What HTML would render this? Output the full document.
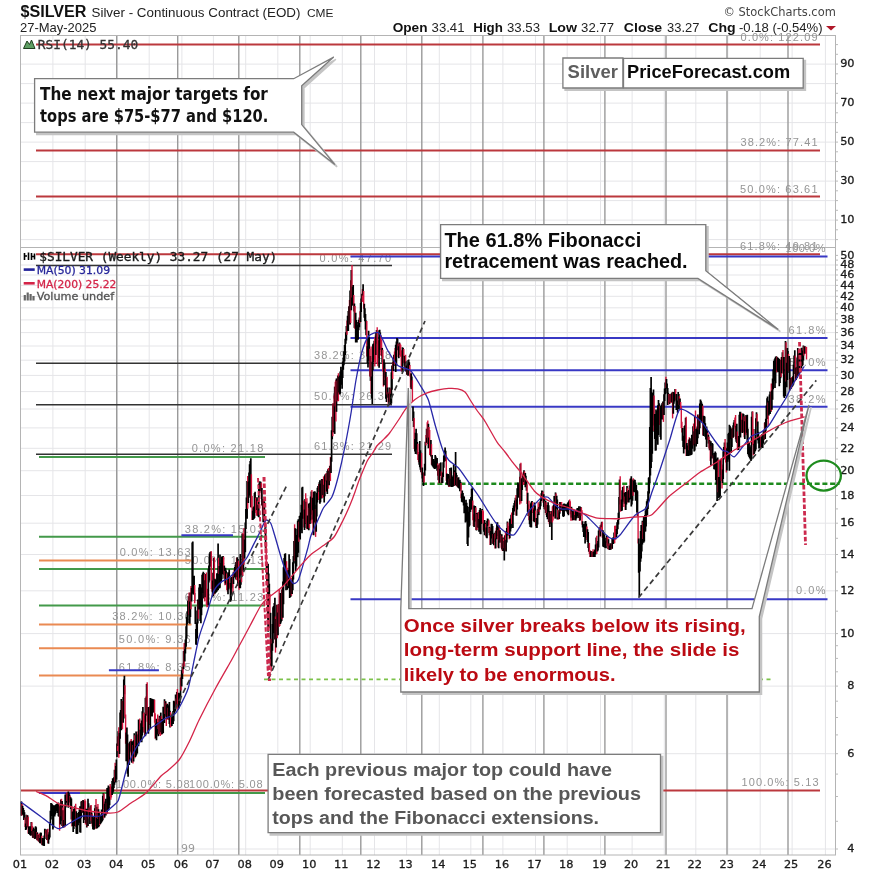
<!DOCTYPE html>
<html><head><meta charset="utf-8"><title>$SILVER Weekly</title>
<style>html,body{margin:0;padding:0;background:#fff;overflow:hidden;width:875px;height:875px;}svg{display:block;}</style></head>
<body><svg width="875" height="875" viewBox="0 0 875 875" shape-rendering="auto">
<rect x="0" y="0" width="875" height="875" fill="#fff"/>
<text x="20.5" y="17" font-family="'Liberation Sans', sans-serif" font-size="16" font-weight="bold" fill="#111" textLength="66" lengthAdjust="spacingAndGlyphs">$SILVER</text>
<text x="91.5" y="16.5" font-family="'Liberation Sans', sans-serif" font-size="13.4" fill="#222" textLength="209" lengthAdjust="spacingAndGlyphs">Silver - Continuous Contract (EOD)</text>
<text x="307" y="16.5" font-family="'Liberation Sans', sans-serif" font-size="10" fill="#222" textLength="26.5" lengthAdjust="spacingAndGlyphs">CME</text>
<text x="20" y="32" font-family="'Liberation Sans', sans-serif" font-size="13" fill="#222" textLength="76.5" lengthAdjust="spacingAndGlyphs">27-May-2025</text>
<text x="723.5" y="16" font-family="'DejaVu Sans', sans-serif" font-size="11.5" fill="#444" textLength="112.3" lengthAdjust="spacingAndGlyphs">&#169; StockCharts.com</text>
<text x="392.7" y="31.6" font-family="'Liberation Sans', sans-serif" font-size="13.5" font-weight="bold" fill="#111" textLength="34.8" lengthAdjust="spacingAndGlyphs">Open</text>
<text x="431.6" y="31.6" font-family="'Liberation Sans', sans-serif" font-size="13" fill="#222" textLength="32.9" lengthAdjust="spacingAndGlyphs">33.41</text>
<text x="473.3" y="31.6" font-family="'Liberation Sans', sans-serif" font-size="13.5" font-weight="bold" fill="#111" textLength="29.6" lengthAdjust="spacingAndGlyphs">High</text>
<text x="507" y="31.6" font-family="'Liberation Sans', sans-serif" font-size="13" fill="#222" textLength="33" lengthAdjust="spacingAndGlyphs">33.53</text>
<text x="548.7" y="31.6" font-family="'Liberation Sans', sans-serif" font-size="13.5" font-weight="bold" fill="#111" textLength="28.3" lengthAdjust="spacingAndGlyphs">Low</text>
<text x="581.1" y="31.6" font-family="'Liberation Sans', sans-serif" font-size="13" fill="#222" textLength="32.9" lengthAdjust="spacingAndGlyphs">32.77</text>
<text x="623.8" y="31.6" font-family="'Liberation Sans', sans-serif" font-size="13.5" font-weight="bold" fill="#111" textLength="38.4" lengthAdjust="spacingAndGlyphs">Close</text>
<text x="667.1" y="31.6" font-family="'Liberation Sans', sans-serif" font-size="13" fill="#222" textLength="32.4" lengthAdjust="spacingAndGlyphs">33.27</text>
<text x="708.3" y="31.6" font-family="'Liberation Sans', sans-serif" font-size="13.5" font-weight="bold" fill="#111" textLength="27.4" lengthAdjust="spacingAndGlyphs">Chg</text>
<text x="739" y="31.6" font-family="'Liberation Sans', sans-serif" font-size="13" fill="#222" textLength="83.6" lengthAdjust="spacingAndGlyphs">-0.18 (-0.54%)</text>
<polygon points="826,26 836,26 831,30.5" fill="#b0182a"/>
<line x1="20.5" y1="239.6" x2="835.5" y2="239.6" stroke="#e5e5e8" stroke-width="1"/>
<line x1="20.5" y1="220.1" x2="835.5" y2="220.1" stroke="#e5e5e8" stroke-width="1"/>
<line x1="20.5" y1="200.6" x2="835.5" y2="200.6" stroke="#e5e5e8" stroke-width="1"/>
<line x1="20.5" y1="181.1" x2="835.5" y2="181.1" stroke="#e5e5e8" stroke-width="1"/>
<line x1="20.5" y1="161.6" x2="835.5" y2="161.6" stroke="#e5e5e8" stroke-width="1"/>
<line x1="20.5" y1="142.1" x2="835.5" y2="142.1" stroke="#e5e5e8" stroke-width="1"/>
<line x1="20.5" y1="122.6" x2="835.5" y2="122.6" stroke="#e5e5e8" stroke-width="1"/>
<line x1="20.5" y1="103.1" x2="835.5" y2="103.1" stroke="#e5e5e8" stroke-width="1"/>
<line x1="20.5" y1="83.6" x2="835.5" y2="83.6" stroke="#e5e5e8" stroke-width="1"/>
<line x1="20.5" y1="64.1" x2="835.5" y2="64.1" stroke="#e5e5e8" stroke-width="1"/>
<line x1="20.5" y1="849" x2="835.5" y2="849" stroke="#e5e5e8" stroke-width="1"/>
<line x1="20.5" y1="753.7" x2="835.5" y2="753.7" stroke="#e5e5e8" stroke-width="1"/>
<line x1="20.5" y1="686.1" x2="835.5" y2="686.1" stroke="#e5e5e8" stroke-width="1"/>
<line x1="20.5" y1="633.6" x2="835.5" y2="633.6" stroke="#e5e5e8" stroke-width="1"/>
<line x1="20.5" y1="590.8" x2="835.5" y2="590.8" stroke="#e5e5e8" stroke-width="1"/>
<line x1="20.5" y1="554.5" x2="835.5" y2="554.5" stroke="#e5e5e8" stroke-width="1"/>
<line x1="20.5" y1="523.2" x2="835.5" y2="523.2" stroke="#e5e5e8" stroke-width="1"/>
<line x1="20.5" y1="495.5" x2="835.5" y2="495.5" stroke="#e5e5e8" stroke-width="1"/>
<line x1="20.5" y1="470.7" x2="835.5" y2="470.7" stroke="#e5e5e8" stroke-width="1"/>
<line x1="20.5" y1="448.3" x2="835.5" y2="448.3" stroke="#e5e5e8" stroke-width="1"/>
<line x1="20.5" y1="427.9" x2="835.5" y2="427.9" stroke="#e5e5e8" stroke-width="1"/>
<line x1="20.5" y1="409" x2="835.5" y2="409" stroke="#e5e5e8" stroke-width="1"/>
<line x1="20.5" y1="391.6" x2="835.5" y2="391.6" stroke="#e5e5e8" stroke-width="1"/>
<line x1="20.5" y1="375.4" x2="835.5" y2="375.4" stroke="#e5e5e8" stroke-width="1"/>
<line x1="20.5" y1="360.2" x2="835.5" y2="360.2" stroke="#e5e5e8" stroke-width="1"/>
<line x1="20.5" y1="346" x2="835.5" y2="346" stroke="#e5e5e8" stroke-width="1"/>
<line x1="20.5" y1="332.6" x2="835.5" y2="332.6" stroke="#e5e5e8" stroke-width="1"/>
<line x1="20.5" y1="319.9" x2="835.5" y2="319.9" stroke="#e5e5e8" stroke-width="1"/>
<line x1="20.5" y1="307.8" x2="835.5" y2="307.8" stroke="#e5e5e8" stroke-width="1"/>
<line x1="20.5" y1="296.3" x2="835.5" y2="296.3" stroke="#e5e5e8" stroke-width="1"/>
<line x1="20.5" y1="285.4" x2="835.5" y2="285.4" stroke="#e5e5e8" stroke-width="1"/>
<line x1="20.5" y1="275" x2="835.5" y2="275" stroke="#e5e5e8" stroke-width="1"/>
<line x1="20.5" y1="265" x2="835.5" y2="265" stroke="#e5e5e8" stroke-width="1"/>
<line x1="52.9" y1="35.5" x2="52.9" y2="855" stroke="#e5e5e8" stroke-width="1"/>
<line x1="85.2" y1="35.5" x2="85.2" y2="855" stroke="#e5e5e8" stroke-width="1"/>
<line x1="117.2" y1="35.5" x2="117.2" y2="855" stroke="#e5e5e8" stroke-width="1"/>
<line x1="149.2" y1="35.5" x2="149.2" y2="855" stroke="#e5e5e8" stroke-width="1"/>
<line x1="181.9" y1="35.5" x2="181.9" y2="855" stroke="#e5e5e8" stroke-width="1"/>
<line x1="213.4" y1="35.5" x2="213.4" y2="855" stroke="#e5e5e8" stroke-width="1"/>
<line x1="245.7" y1="35.5" x2="245.7" y2="855" stroke="#e5e5e8" stroke-width="1"/>
<line x1="277.8" y1="35.5" x2="277.8" y2="855" stroke="#e5e5e8" stroke-width="1"/>
<line x1="310.2" y1="35.5" x2="310.2" y2="855" stroke="#e5e5e8" stroke-width="1"/>
<line x1="342.3" y1="35.5" x2="342.3" y2="855" stroke="#e5e5e8" stroke-width="1"/>
<line x1="374.5" y1="35.5" x2="374.5" y2="855" stroke="#e5e5e8" stroke-width="1"/>
<line x1="406.6" y1="35.5" x2="406.6" y2="855" stroke="#e5e5e8" stroke-width="1"/>
<line x1="439.3" y1="35.5" x2="439.3" y2="855" stroke="#e5e5e8" stroke-width="1"/>
<line x1="470.8" y1="35.5" x2="470.8" y2="855" stroke="#e5e5e8" stroke-width="1"/>
<line x1="502.9" y1="35.5" x2="502.9" y2="855" stroke="#e5e5e8" stroke-width="1"/>
<line x1="535.5" y1="35.5" x2="535.5" y2="855" stroke="#e5e5e8" stroke-width="1"/>
<line x1="567.2" y1="35.5" x2="567.2" y2="855" stroke="#e5e5e8" stroke-width="1"/>
<line x1="600.5" y1="35.5" x2="600.5" y2="855" stroke="#e5e5e8" stroke-width="1"/>
<line x1="632.1" y1="35.5" x2="632.1" y2="855" stroke="#e5e5e8" stroke-width="1"/>
<line x1="664.3" y1="35.5" x2="664.3" y2="855" stroke="#e5e5e8" stroke-width="1"/>
<line x1="695.8" y1="35.5" x2="695.8" y2="855" stroke="#e5e5e8" stroke-width="1"/>
<line x1="727.8" y1="35.5" x2="727.8" y2="855" stroke="#e5e5e8" stroke-width="1"/>
<line x1="760.2" y1="35.5" x2="760.2" y2="855" stroke="#e5e5e8" stroke-width="1"/>
<line x1="792.1" y1="35.5" x2="792.1" y2="855" stroke="#e5e5e8" stroke-width="1"/>
<line x1="825.4" y1="35.5" x2="825.4" y2="855" stroke="#e5e5e8" stroke-width="1"/>
<line x1="116.7" y1="35.5" x2="116.7" y2="855" stroke="#9a9a9a" stroke-width="1.4"/>
<line x1="177.7" y1="35.5" x2="177.7" y2="855" stroke="#9a9a9a" stroke-width="1.4"/>
<line x1="238.8" y1="35.5" x2="238.8" y2="855" stroke="#9a9a9a" stroke-width="1.4"/>
<line x1="299.8" y1="35.5" x2="299.8" y2="855" stroke="#9a9a9a" stroke-width="1.4"/>
<line x1="360.8" y1="35.5" x2="360.8" y2="855" stroke="#9a9a9a" stroke-width="1.4"/>
<line x1="421.8" y1="35.5" x2="421.8" y2="855" stroke="#9a9a9a" stroke-width="1.4"/>
<line x1="482.9" y1="35.5" x2="482.9" y2="855" stroke="#9a9a9a" stroke-width="1.4"/>
<line x1="543.9" y1="35.5" x2="543.9" y2="855" stroke="#9a9a9a" stroke-width="1.4"/>
<line x1="604.9" y1="35.5" x2="604.9" y2="855" stroke="#9a9a9a" stroke-width="1.4"/>
<line x1="666" y1="35.5" x2="666" y2="855" stroke="#9a9a9a" stroke-width="1.4"/>
<line x1="727" y1="35.5" x2="727" y2="855" stroke="#9a9a9a" stroke-width="1.4"/>
<line x1="788" y1="35.5" x2="788" y2="855" stroke="#9a9a9a" stroke-width="1.4"/>
<rect x="20.5" y="35.5" width="815.0" height="819.5" fill="none" stroke="#b4b4b4" stroke-width="1"/>
<line x1="20.5" y1="247.5" x2="835.5" y2="247.5" stroke="#b4b4b4" stroke-width="1"/>
<line x1="835.5" y1="239.6" x2="838" y2="239.6" stroke="#bbb" stroke-width="1"/>
<line x1="835.5" y1="229.8" x2="838" y2="229.8" stroke="#bbb" stroke-width="1"/>
<line x1="835.5" y1="220.1" x2="838" y2="220.1" stroke="#bbb" stroke-width="1"/>
<line x1="835.5" y1="210.3" x2="838" y2="210.3" stroke="#bbb" stroke-width="1"/>
<line x1="835.5" y1="200.6" x2="838" y2="200.6" stroke="#bbb" stroke-width="1"/>
<line x1="835.5" y1="190.8" x2="838" y2="190.8" stroke="#bbb" stroke-width="1"/>
<line x1="835.5" y1="181.1" x2="838" y2="181.1" stroke="#bbb" stroke-width="1"/>
<line x1="835.5" y1="171.3" x2="838" y2="171.3" stroke="#bbb" stroke-width="1"/>
<line x1="835.5" y1="161.6" x2="838" y2="161.6" stroke="#bbb" stroke-width="1"/>
<line x1="835.5" y1="151.8" x2="838" y2="151.8" stroke="#bbb" stroke-width="1"/>
<line x1="835.5" y1="142.1" x2="838" y2="142.1" stroke="#bbb" stroke-width="1"/>
<line x1="835.5" y1="132.3" x2="838" y2="132.3" stroke="#bbb" stroke-width="1"/>
<line x1="835.5" y1="122.6" x2="838" y2="122.6" stroke="#bbb" stroke-width="1"/>
<line x1="835.5" y1="112.8" x2="838" y2="112.8" stroke="#bbb" stroke-width="1"/>
<line x1="835.5" y1="103.1" x2="838" y2="103.1" stroke="#bbb" stroke-width="1"/>
<line x1="835.5" y1="93.3" x2="838" y2="93.3" stroke="#bbb" stroke-width="1"/>
<line x1="835.5" y1="83.6" x2="838" y2="83.6" stroke="#bbb" stroke-width="1"/>
<line x1="835.5" y1="73.8" x2="838" y2="73.8" stroke="#bbb" stroke-width="1"/>
<line x1="835.5" y1="64.1" x2="838" y2="64.1" stroke="#bbb" stroke-width="1"/>
<line x1="835.5" y1="54.3" x2="838" y2="54.3" stroke="#bbb" stroke-width="1"/>
<line x1="835.5" y1="44.6" x2="838" y2="44.6" stroke="#bbb" stroke-width="1"/>
<line x1="835.5" y1="849" x2="838" y2="849" stroke="#bbb" stroke-width="1"/>
<line x1="835.5" y1="821.3" x2="838" y2="821.3" stroke="#bbb" stroke-width="1"/>
<line x1="835.5" y1="796.5" x2="838" y2="796.5" stroke="#bbb" stroke-width="1"/>
<line x1="835.5" y1="774.1" x2="838" y2="774.1" stroke="#bbb" stroke-width="1"/>
<line x1="835.5" y1="753.7" x2="838" y2="753.7" stroke="#bbb" stroke-width="1"/>
<line x1="835.5" y1="734.9" x2="838" y2="734.9" stroke="#bbb" stroke-width="1"/>
<line x1="835.5" y1="717.5" x2="838" y2="717.5" stroke="#bbb" stroke-width="1"/>
<line x1="835.5" y1="701.2" x2="838" y2="701.2" stroke="#bbb" stroke-width="1"/>
<line x1="835.5" y1="686.1" x2="838" y2="686.1" stroke="#bbb" stroke-width="1"/>
<line x1="835.5" y1="671.8" x2="838" y2="671.8" stroke="#bbb" stroke-width="1"/>
<line x1="835.5" y1="658.4" x2="838" y2="658.4" stroke="#bbb" stroke-width="1"/>
<line x1="835.5" y1="645.7" x2="838" y2="645.7" stroke="#bbb" stroke-width="1"/>
<line x1="835.5" y1="633.6" x2="838" y2="633.6" stroke="#bbb" stroke-width="1"/>
<line x1="835.5" y1="611.2" x2="838" y2="611.2" stroke="#bbb" stroke-width="1"/>
<line x1="835.5" y1="590.8" x2="838" y2="590.8" stroke="#bbb" stroke-width="1"/>
<line x1="835.5" y1="572" x2="838" y2="572" stroke="#bbb" stroke-width="1"/>
<line x1="835.5" y1="554.5" x2="838" y2="554.5" stroke="#bbb" stroke-width="1"/>
<line x1="835.5" y1="538.3" x2="838" y2="538.3" stroke="#bbb" stroke-width="1"/>
<line x1="835.5" y1="523.2" x2="838" y2="523.2" stroke="#bbb" stroke-width="1"/>
<line x1="835.5" y1="508.9" x2="838" y2="508.9" stroke="#bbb" stroke-width="1"/>
<line x1="835.5" y1="495.5" x2="838" y2="495.5" stroke="#bbb" stroke-width="1"/>
<line x1="835.5" y1="482.8" x2="838" y2="482.8" stroke="#bbb" stroke-width="1"/>
<line x1="835.5" y1="470.7" x2="838" y2="470.7" stroke="#bbb" stroke-width="1"/>
<line x1="835.5" y1="459.2" x2="838" y2="459.2" stroke="#bbb" stroke-width="1"/>
<line x1="835.5" y1="448.3" x2="838" y2="448.3" stroke="#bbb" stroke-width="1"/>
<line x1="835.5" y1="437.9" x2="838" y2="437.9" stroke="#bbb" stroke-width="1"/>
<line x1="835.5" y1="427.9" x2="838" y2="427.9" stroke="#bbb" stroke-width="1"/>
<line x1="835.5" y1="418.3" x2="838" y2="418.3" stroke="#bbb" stroke-width="1"/>
<line x1="835.5" y1="409" x2="838" y2="409" stroke="#bbb" stroke-width="1"/>
<line x1="835.5" y1="400.2" x2="838" y2="400.2" stroke="#bbb" stroke-width="1"/>
<line x1="835.5" y1="391.6" x2="838" y2="391.6" stroke="#bbb" stroke-width="1"/>
<line x1="835.5" y1="383.4" x2="838" y2="383.4" stroke="#bbb" stroke-width="1"/>
<line x1="835.5" y1="375.4" x2="838" y2="375.4" stroke="#bbb" stroke-width="1"/>
<line x1="835.5" y1="367.7" x2="838" y2="367.7" stroke="#bbb" stroke-width="1"/>
<line x1="835.5" y1="360.2" x2="838" y2="360.2" stroke="#bbb" stroke-width="1"/>
<line x1="835.5" y1="353" x2="838" y2="353" stroke="#bbb" stroke-width="1"/>
<line x1="835.5" y1="346" x2="838" y2="346" stroke="#bbb" stroke-width="1"/>
<line x1="835.5" y1="339.2" x2="838" y2="339.2" stroke="#bbb" stroke-width="1"/>
<line x1="835.5" y1="332.6" x2="838" y2="332.6" stroke="#bbb" stroke-width="1"/>
<line x1="835.5" y1="326.1" x2="838" y2="326.1" stroke="#bbb" stroke-width="1"/>
<line x1="835.5" y1="319.9" x2="838" y2="319.9" stroke="#bbb" stroke-width="1"/>
<line x1="835.5" y1="313.8" x2="838" y2="313.8" stroke="#bbb" stroke-width="1"/>
<line x1="835.5" y1="307.8" x2="838" y2="307.8" stroke="#bbb" stroke-width="1"/>
<line x1="835.5" y1="302" x2="838" y2="302" stroke="#bbb" stroke-width="1"/>
<line x1="835.5" y1="296.3" x2="838" y2="296.3" stroke="#bbb" stroke-width="1"/>
<line x1="835.5" y1="290.8" x2="838" y2="290.8" stroke="#bbb" stroke-width="1"/>
<line x1="835.5" y1="285.4" x2="838" y2="285.4" stroke="#bbb" stroke-width="1"/>
<line x1="835.5" y1="280.1" x2="838" y2="280.1" stroke="#bbb" stroke-width="1"/>
<line x1="835.5" y1="275" x2="838" y2="275" stroke="#bbb" stroke-width="1"/>
<line x1="835.5" y1="269.9" x2="838" y2="269.9" stroke="#bbb" stroke-width="1"/>
<line x1="835.5" y1="265" x2="838" y2="265" stroke="#bbb" stroke-width="1"/>
<line x1="835.5" y1="260.1" x2="838" y2="260.1" stroke="#bbb" stroke-width="1"/>
<line x1="835.5" y1="255.4" x2="838" y2="255.4" stroke="#bbb" stroke-width="1"/>
<text x="854.5" y="66.9" font-family="'DejaVu Sans', sans-serif" font-size="11.3" fill="#1a1a1a" text-anchor="end" stroke="#1a1a1a" stroke-width="0.3">90</text>
<text x="854.5" y="105.9" font-family="'DejaVu Sans', sans-serif" font-size="11.3" fill="#1a1a1a" text-anchor="end" stroke="#1a1a1a" stroke-width="0.3">70</text>
<text x="854.5" y="144.9" font-family="'DejaVu Sans', sans-serif" font-size="11.3" fill="#1a1a1a" text-anchor="end" stroke="#1a1a1a" stroke-width="0.3">50</text>
<text x="854.5" y="183.9" font-family="'DejaVu Sans', sans-serif" font-size="11.3" fill="#1a1a1a" text-anchor="end" stroke="#1a1a1a" stroke-width="0.3">30</text>
<text x="854.5" y="222.9" font-family="'DejaVu Sans', sans-serif" font-size="11.3" fill="#1a1a1a" text-anchor="end" stroke="#1a1a1a" stroke-width="0.3">10</text>
<text x="854.5" y="258.6" font-family="'DejaVu Sans', sans-serif" font-size="11.3" fill="#1a1a1a" text-anchor="end" stroke="#1a1a1a" stroke-width="0.3">50</text>
<text x="854.5" y="268.2" font-family="'DejaVu Sans', sans-serif" font-size="11.3" fill="#1a1a1a" text-anchor="end" stroke="#1a1a1a" stroke-width="0.3">48</text>
<text x="854.5" y="278.2" font-family="'DejaVu Sans', sans-serif" font-size="11.3" fill="#1a1a1a" text-anchor="end" stroke="#1a1a1a" stroke-width="0.3">46</text>
<text x="854.5" y="288.6" font-family="'DejaVu Sans', sans-serif" font-size="11.3" fill="#1a1a1a" text-anchor="end" stroke="#1a1a1a" stroke-width="0.3">44</text>
<text x="854.5" y="299.5" font-family="'DejaVu Sans', sans-serif" font-size="11.3" fill="#1a1a1a" text-anchor="end" stroke="#1a1a1a" stroke-width="0.3">42</text>
<text x="854.5" y="311" font-family="'DejaVu Sans', sans-serif" font-size="11.3" fill="#1a1a1a" text-anchor="end" stroke="#1a1a1a" stroke-width="0.3">40</text>
<text x="854.5" y="323.1" font-family="'DejaVu Sans', sans-serif" font-size="11.3" fill="#1a1a1a" text-anchor="end" stroke="#1a1a1a" stroke-width="0.3">38</text>
<text x="854.5" y="335.8" font-family="'DejaVu Sans', sans-serif" font-size="11.3" fill="#1a1a1a" text-anchor="end" stroke="#1a1a1a" stroke-width="0.3">36</text>
<text x="854.5" y="349.2" font-family="'DejaVu Sans', sans-serif" font-size="11.3" fill="#1a1a1a" text-anchor="end" stroke="#1a1a1a" stroke-width="0.3">34</text>
<text x="854.5" y="363.4" font-family="'DejaVu Sans', sans-serif" font-size="11.3" fill="#1a1a1a" text-anchor="end" stroke="#1a1a1a" stroke-width="0.3">32</text>
<text x="854.5" y="378.6" font-family="'DejaVu Sans', sans-serif" font-size="11.3" fill="#1a1a1a" text-anchor="end" stroke="#1a1a1a" stroke-width="0.3">30</text>
<text x="854.5" y="394.8" font-family="'DejaVu Sans', sans-serif" font-size="11.3" fill="#1a1a1a" text-anchor="end" stroke="#1a1a1a" stroke-width="0.3">28</text>
<text x="854.5" y="412.2" font-family="'DejaVu Sans', sans-serif" font-size="11.3" fill="#1a1a1a" text-anchor="end" stroke="#1a1a1a" stroke-width="0.3">26</text>
<text x="854.5" y="431.1" font-family="'DejaVu Sans', sans-serif" font-size="11.3" fill="#1a1a1a" text-anchor="end" stroke="#1a1a1a" stroke-width="0.3">24</text>
<text x="854.5" y="451.5" font-family="'DejaVu Sans', sans-serif" font-size="11.3" fill="#1a1a1a" text-anchor="end" stroke="#1a1a1a" stroke-width="0.3">22</text>
<text x="854.5" y="473.9" font-family="'DejaVu Sans', sans-serif" font-size="11.3" fill="#1a1a1a" text-anchor="end" stroke="#1a1a1a" stroke-width="0.3">20</text>
<text x="854.5" y="498.7" font-family="'DejaVu Sans', sans-serif" font-size="11.3" fill="#1a1a1a" text-anchor="end" stroke="#1a1a1a" stroke-width="0.3">18</text>
<text x="854.5" y="526.4" font-family="'DejaVu Sans', sans-serif" font-size="11.3" fill="#1a1a1a" text-anchor="end" stroke="#1a1a1a" stroke-width="0.3">16</text>
<text x="854.5" y="557.7" font-family="'DejaVu Sans', sans-serif" font-size="11.3" fill="#1a1a1a" text-anchor="end" stroke="#1a1a1a" stroke-width="0.3">14</text>
<text x="854.5" y="594" font-family="'DejaVu Sans', sans-serif" font-size="11.3" fill="#1a1a1a" text-anchor="end" stroke="#1a1a1a" stroke-width="0.3">12</text>
<text x="854.5" y="636.8" font-family="'DejaVu Sans', sans-serif" font-size="11.3" fill="#1a1a1a" text-anchor="end" stroke="#1a1a1a" stroke-width="0.3">10</text>
<text x="854.5" y="689.3" font-family="'DejaVu Sans', sans-serif" font-size="11.3" fill="#1a1a1a" text-anchor="end" stroke="#1a1a1a" stroke-width="0.3">8</text>
<text x="854.5" y="756.9" font-family="'DejaVu Sans', sans-serif" font-size="11.3" fill="#1a1a1a" text-anchor="end" stroke="#1a1a1a" stroke-width="0.3">6</text>
<text x="854.5" y="852.2" font-family="'DejaVu Sans', sans-serif" font-size="11.3" fill="#1a1a1a" text-anchor="end" stroke="#1a1a1a" stroke-width="0.3">4</text>
<text x="20" y="868.3" font-family="'DejaVu Sans', sans-serif" font-size="11.3" fill="#1a1a1a" text-anchor="middle" stroke="#1a1a1a" stroke-width="0.3">01</text>
<text x="51.9" y="868.3" font-family="'DejaVu Sans', sans-serif" font-size="11.3" fill="#1a1a1a" text-anchor="middle" stroke="#1a1a1a" stroke-width="0.3">02</text>
<text x="84.2" y="868.3" font-family="'DejaVu Sans', sans-serif" font-size="11.3" fill="#1a1a1a" text-anchor="middle" stroke="#1a1a1a" stroke-width="0.3">03</text>
<text x="116.2" y="868.3" font-family="'DejaVu Sans', sans-serif" font-size="11.3" fill="#1a1a1a" text-anchor="middle" stroke="#1a1a1a" stroke-width="0.3">04</text>
<text x="148.2" y="868.3" font-family="'DejaVu Sans', sans-serif" font-size="11.3" fill="#1a1a1a" text-anchor="middle" stroke="#1a1a1a" stroke-width="0.3">05</text>
<text x="180.9" y="868.3" font-family="'DejaVu Sans', sans-serif" font-size="11.3" fill="#1a1a1a" text-anchor="middle" stroke="#1a1a1a" stroke-width="0.3">06</text>
<text x="212.4" y="868.3" font-family="'DejaVu Sans', sans-serif" font-size="11.3" fill="#1a1a1a" text-anchor="middle" stroke="#1a1a1a" stroke-width="0.3">07</text>
<text x="244.7" y="868.3" font-family="'DejaVu Sans', sans-serif" font-size="11.3" fill="#1a1a1a" text-anchor="middle" stroke="#1a1a1a" stroke-width="0.3">08</text>
<text x="276.8" y="868.3" font-family="'DejaVu Sans', sans-serif" font-size="11.3" fill="#1a1a1a" text-anchor="middle" stroke="#1a1a1a" stroke-width="0.3">09</text>
<text x="309.2" y="868.3" font-family="'DejaVu Sans', sans-serif" font-size="11.3" fill="#1a1a1a" text-anchor="middle" stroke="#1a1a1a" stroke-width="0.3">10</text>
<text x="341.3" y="868.3" font-family="'DejaVu Sans', sans-serif" font-size="11.3" fill="#1a1a1a" text-anchor="middle" stroke="#1a1a1a" stroke-width="0.3">11</text>
<text x="373.5" y="868.3" font-family="'DejaVu Sans', sans-serif" font-size="11.3" fill="#1a1a1a" text-anchor="middle" stroke="#1a1a1a" stroke-width="0.3">12</text>
<text x="405.6" y="868.3" font-family="'DejaVu Sans', sans-serif" font-size="11.3" fill="#1a1a1a" text-anchor="middle" stroke="#1a1a1a" stroke-width="0.3">13</text>
<text x="438.3" y="868.3" font-family="'DejaVu Sans', sans-serif" font-size="11.3" fill="#1a1a1a" text-anchor="middle" stroke="#1a1a1a" stroke-width="0.3">14</text>
<text x="469.8" y="868.3" font-family="'DejaVu Sans', sans-serif" font-size="11.3" fill="#1a1a1a" text-anchor="middle" stroke="#1a1a1a" stroke-width="0.3">15</text>
<text x="501.9" y="868.3" font-family="'DejaVu Sans', sans-serif" font-size="11.3" fill="#1a1a1a" text-anchor="middle" stroke="#1a1a1a" stroke-width="0.3">16</text>
<text x="534.5" y="868.3" font-family="'DejaVu Sans', sans-serif" font-size="11.3" fill="#1a1a1a" text-anchor="middle" stroke="#1a1a1a" stroke-width="0.3">17</text>
<text x="566.2" y="868.3" font-family="'DejaVu Sans', sans-serif" font-size="11.3" fill="#1a1a1a" text-anchor="middle" stroke="#1a1a1a" stroke-width="0.3">18</text>
<text x="599.5" y="868.3" font-family="'DejaVu Sans', sans-serif" font-size="11.3" fill="#1a1a1a" text-anchor="middle" stroke="#1a1a1a" stroke-width="0.3">19</text>
<text x="631.1" y="868.3" font-family="'DejaVu Sans', sans-serif" font-size="11.3" fill="#1a1a1a" text-anchor="middle" stroke="#1a1a1a" stroke-width="0.3">20</text>
<text x="663.3" y="868.3" font-family="'DejaVu Sans', sans-serif" font-size="11.3" fill="#1a1a1a" text-anchor="middle" stroke="#1a1a1a" stroke-width="0.3">21</text>
<text x="694.8" y="868.3" font-family="'DejaVu Sans', sans-serif" font-size="11.3" fill="#1a1a1a" text-anchor="middle" stroke="#1a1a1a" stroke-width="0.3">22</text>
<text x="726.8" y="868.3" font-family="'DejaVu Sans', sans-serif" font-size="11.3" fill="#1a1a1a" text-anchor="middle" stroke="#1a1a1a" stroke-width="0.3">23</text>
<text x="759.2" y="868.3" font-family="'DejaVu Sans', sans-serif" font-size="11.3" fill="#1a1a1a" text-anchor="middle" stroke="#1a1a1a" stroke-width="0.3">24</text>
<text x="791.1" y="868.3" font-family="'DejaVu Sans', sans-serif" font-size="11.3" fill="#1a1a1a" text-anchor="middle" stroke="#1a1a1a" stroke-width="0.3">25</text>
<text x="824.4" y="868.3" font-family="'DejaVu Sans', sans-serif" font-size="11.3" fill="#1a1a1a" text-anchor="middle" stroke="#1a1a1a" stroke-width="0.3">26</text>
<text x="188" y="852" font-family="'DejaVu Sans', sans-serif" font-size="11" fill="#999" text-anchor="middle">99</text>
<text x="817.5" y="40.5" font-family="'Liberation Sans', sans-serif" font-size="11" fill="#959595" text-anchor="end" textLength="77" lengthAdjust="spacing">0.0%: 122.09</text>
<text x="817.5" y="146.3" font-family="'Liberation Sans', sans-serif" font-size="11" fill="#959595" text-anchor="end" textLength="77" lengthAdjust="spacing">38.2%: 77.41</text>
<text x="817.5" y="192.6" font-family="'Liberation Sans', sans-serif" font-size="11" fill="#959595" text-anchor="end" textLength="77.5" lengthAdjust="spacing">50.0%: 63.61</text>
<text x="817.5" y="250" font-family="'Liberation Sans', sans-serif" font-size="11" fill="#959595" text-anchor="end" textLength="77.5" lengthAdjust="spacing">61.8%: 49.81</text>
<text x="825.5" y="251.5" font-family="'Liberation Sans', sans-serif" font-size="11" fill="#959595" text-anchor="end" textLength="40" lengthAdjust="spacing">100.0%</text>
<text x="818.5" y="786.3" font-family="'Liberation Sans', sans-serif" font-size="11" fill="#959595" text-anchor="end" textLength="77" lengthAdjust="spacing">100.0%: 5.13</text>
<text x="391" y="261.5" font-family="'Liberation Sans', sans-serif" font-size="11" fill="#959595" text-anchor="end" textLength="71.5" lengthAdjust="spacing">0.0%: 47.70</text>
<text x="391" y="359" font-family="'Liberation Sans', sans-serif" font-size="11" fill="#959595" text-anchor="end" textLength="77" lengthAdjust="spacing">38.2%: 31.38</text>
<text x="391" y="400.2" font-family="'Liberation Sans', sans-serif" font-size="11" fill="#959595" text-anchor="end" textLength="77" lengthAdjust="spacing">50.0%: 26.34</text>
<text x="391" y="450" font-family="'Liberation Sans', sans-serif" font-size="11" fill="#959595" text-anchor="end" textLength="77" lengthAdjust="spacing">61.8%: 21.29</text>
<text x="825.5" y="334.2" font-family="'Liberation Sans', sans-serif" font-size="11" fill="#959595" text-anchor="end" textLength="37" lengthAdjust="spacing">61.8%</text>
<text x="825.5" y="365.7" font-family="'Liberation Sans', sans-serif" font-size="11" fill="#959595" text-anchor="end" textLength="37" lengthAdjust="spacing">50.0%</text>
<text x="825.5" y="403" font-family="'Liberation Sans', sans-serif" font-size="11" fill="#959595" text-anchor="end" textLength="37" lengthAdjust="spacing">38.2%</text>
<text x="825.5" y="594.3" font-family="'Liberation Sans', sans-serif" font-size="11" fill="#959595" text-anchor="end" textLength="29.5" lengthAdjust="spacing">0.0%</text>
<text x="263.3" y="451.8" font-family="'Liberation Sans', sans-serif" font-size="11" fill="#959595" text-anchor="end" textLength="71.6" lengthAdjust="spacing">0.0%: 21.18</text>
<text x="263.3" y="532.7" font-family="'Liberation Sans', sans-serif" font-size="11" fill="#959595" text-anchor="end" textLength="78.5" lengthAdjust="spacing">38.2%: 15.03</text>
<text x="263.3" y="564.2" font-family="'Liberation Sans', sans-serif" font-size="11" fill="#959595" text-anchor="end" textLength="78.5" lengthAdjust="spacing">50.0%: 13.13</text>
<text x="263.3" y="601" font-family="'Liberation Sans', sans-serif" font-size="11" fill="#959595" text-anchor="end" textLength="78.5" lengthAdjust="spacing">61.8%: 11.23</text>
<text x="262.5" y="788.4" font-family="'Liberation Sans', sans-serif" font-size="11" fill="#959595" text-anchor="end" textLength="73.5" lengthAdjust="spacing">100.0%: 5.08</text>
<text x="190.7" y="555.9" font-family="'Liberation Sans', sans-serif" font-size="11" fill="#959595" text-anchor="end" textLength="71" lengthAdjust="spacing">0.0%: 13.63</text>
<text x="190.7" y="619.7" font-family="'Liberation Sans', sans-serif" font-size="11" fill="#959595" text-anchor="end" textLength="78.5" lengthAdjust="spacing">38.2%: 10.36</text>
<text x="190.7" y="643.3" font-family="'Liberation Sans', sans-serif" font-size="11" fill="#959595" text-anchor="end" textLength="72" lengthAdjust="spacing">50.0%: 9.36</text>
<text x="190.7" y="670.5" font-family="'Liberation Sans', sans-serif" font-size="11" fill="#959595" text-anchor="end" textLength="72" lengthAdjust="spacing">61.8%: 8.35</text>
<text x="189.5" y="788.4" font-family="'Liberation Sans', sans-serif" font-size="11" fill="#959595" text-anchor="end" textLength="73.5" lengthAdjust="spacing">100.0%: 5.08</text>
<line x1="36" y1="44.4" x2="820" y2="44.4" stroke="#bb383d" stroke-width="2"/>
<line x1="36" y1="150.4" x2="820" y2="150.4" stroke="#bb383d" stroke-width="2"/>
<line x1="36" y1="196.6" x2="820" y2="196.6" stroke="#bb383d" stroke-width="2"/>
<line x1="36" y1="254.2" x2="820" y2="254.2" stroke="#bb383d" stroke-width="2"/>
<line x1="21" y1="790.4" x2="820" y2="790.4" stroke="#bb383d" stroke-width="2"/>
<line x1="36" y1="265.5" x2="392" y2="265.5" stroke="#333" stroke-width="1.6"/>
<line x1="36" y1="363.2" x2="392" y2="363.2" stroke="#333" stroke-width="1.6"/>
<line x1="36" y1="404.7" x2="392" y2="404.7" stroke="#333" stroke-width="1.6"/>
<line x1="36" y1="454.3" x2="392" y2="454.3" stroke="#333" stroke-width="1.6"/>
<line x1="350.5" y1="256.6" x2="827.5" y2="256.6" stroke="#3838c4" stroke-width="2"/>
<line x1="350.5" y1="338" x2="827.5" y2="338" stroke="#3838c4" stroke-width="2"/>
<line x1="350.5" y1="370.2" x2="827.5" y2="370.2" stroke="#3838c4" stroke-width="2"/>
<line x1="350.5" y1="406.8" x2="827.5" y2="406.8" stroke="#3838c4" stroke-width="2"/>
<line x1="350.5" y1="599.3" x2="827.5" y2="599.3" stroke="#3838c4" stroke-width="2"/>
<line x1="39" y1="456.9" x2="265" y2="456.9" stroke="#43994a" stroke-width="2"/>
<line x1="39" y1="536.8" x2="265" y2="536.8" stroke="#43994a" stroke-width="2"/>
<line x1="39" y1="569" x2="265" y2="569" stroke="#43994a" stroke-width="2"/>
<line x1="39" y1="605.4" x2="265" y2="605.4" stroke="#43994a" stroke-width="2"/>
<line x1="39" y1="792.9" x2="265" y2="792.9" stroke="#43994a" stroke-width="2"/>
<line x1="39" y1="560.5" x2="191.5" y2="560.5" stroke="#ea8a52" stroke-width="2"/>
<line x1="39" y1="624.4" x2="191.5" y2="624.4" stroke="#ea8a52" stroke-width="2"/>
<line x1="39" y1="648.2" x2="191.5" y2="648.2" stroke="#ea8a52" stroke-width="2"/>
<line x1="39" y1="675.4" x2="191.5" y2="675.4" stroke="#ea8a52" stroke-width="2"/>
<line x1="181.4" y1="535.3" x2="233" y2="535.3" stroke="#3838c4" stroke-width="2"/>
<line x1="39" y1="792.9" x2="80" y2="792.9" stroke="#3838c4" stroke-width="2"/>
<line x1="108.9" y1="670.2" x2="158.9" y2="670.2" stroke="#3838c4" stroke-width="2"/>
<line x1="422" y1="483.8" x2="839.5" y2="483.8" stroke="#1d8a1d" stroke-width="2.4" stroke-dasharray="5,2.7"/>
<line x1="264" y1="679.4" x2="771" y2="679.4" stroke="#7cc24a" stroke-width="1.6" stroke-dasharray="4,3.5"/>
<path d="M21.4 801.4V815.7" stroke="#000" stroke-width="1.7" fill="none"/>
<path d="M22.0 803.8V815.5" stroke="#d4143c" stroke-width="1.4" fill="none"/>
<path d="M22.6 805.7V814.7M23.3 807.9V813.6M23.9 810.0V820.0M24.5 812.2V818.8" stroke="#000" stroke-width="1.7" fill="none"/>
<path d="M25.1 817.4V827.1" stroke="#d4143c" stroke-width="1.4" fill="none"/>
<path d="M25.7 823.5V830.0M26.3 814.7V829.6" stroke="#000" stroke-width="1.7" fill="none"/>
<path d="M27.0 815.0V826.3" stroke="#d4143c" stroke-width="1.4" fill="none"/>
<path d="M27.6 815.3V827.5" stroke="#000" stroke-width="1.7" fill="none"/>
<path d="M28.2 816.7V833.6" stroke="#d4143c" stroke-width="1.4" fill="none"/>
<path d="M28.8 826.5V833.9M29.4 826.2V833.8M30.0 829.3V835.0M30.7 826.2V835.7M31.3 822.0V835.4" stroke="#000" stroke-width="1.7" fill="none"/>
<path d="M31.9 822.3V830.9M32.5 826.0V837.5" stroke="#d4143c" stroke-width="1.4" fill="none"/>
<path d="M33.1 829.5V838.1M33.7 827.6V836.7" stroke="#000" stroke-width="1.7" fill="none"/>
<path d="M34.4 831.1V838.7" stroke="#d4143c" stroke-width="1.4" fill="none"/>
<path d="M35.0 828.9V839.0M35.6 826.3V835.5M36.2 827.2V837.9" stroke="#000" stroke-width="1.7" fill="none"/>
<path d="M36.8 832.1V839.9" stroke="#d4143c" stroke-width="1.4" fill="none"/>
<path d="M37.4 832.5V840.4" stroke="#000" stroke-width="1.7" fill="none"/>
<path d="M38.1 834.0V841.1" stroke="#d4143c" stroke-width="1.4" fill="none"/>
<path d="M38.7 835.0V841.7" stroke="#000" stroke-width="1.7" fill="none"/>
<path d="M39.3 833.5V842.3" stroke="#d4143c" stroke-width="1.4" fill="none"/>
<path d="M39.9 838.0V842.9M40.5 832.5V843.5M41.1 832.7V842.0" stroke="#000" stroke-width="1.7" fill="none"/>
<path d="M41.8 835.7V844.8" stroke="#d4143c" stroke-width="1.4" fill="none"/>
<path d="M42.4 838.0V845.2M43.0 838.2V845.5M43.6 839.7V845.8M44.2 835.4V845.9M44.8 828.8V838.9M45.5 829.5V833.4" stroke="#000" stroke-width="1.7" fill="none"/>
<path d="M46.1 830.0V836.9M46.7 833.3V840.0" stroke="#d4143c" stroke-width="1.4" fill="none"/>
<path d="M47.3 829.1V840.1" stroke="#000" stroke-width="1.7" fill="none"/>
<path d="M47.9 828.7V843.2" stroke="#d4143c" stroke-width="1.4" fill="none"/>
<path d="M48.5 834.6V843.7M49.2 832.3V839.5M49.8 822.3V837.4M50.4 810.7V825.0M51.0 803.0V819.5M51.6 803.6V815.5M52.2 804.2V816.1M52.9 804.9V829.6M53.5 805.8V827.4M54.1 805.9V815.1M54.7 805.5V816.4M55.3 805.0V814.4M55.9 804.5V811.2M56.6 804.1V810.7M57.2 803.6V812.9M57.8 803.2V811.9M58.4 802.5V816.3M59.0 805.5V816.8" stroke="#000" stroke-width="1.7" fill="none"/>
<path d="M59.6 805.1V830.7" stroke="#d4143c" stroke-width="1.4" fill="none"/>
<path d="M60.3 806.3V824.4M60.9 799.6V821.1" stroke="#000" stroke-width="1.7" fill="none"/>
<path d="M61.5 798.8V816.4" stroke="#d4143c" stroke-width="1.4" fill="none"/>
<path d="M62.1 801.1V826.0" stroke="#000" stroke-width="1.7" fill="none"/>
<path d="M62.7 807.5V827.2" stroke="#d4143c" stroke-width="1.4" fill="none"/>
<path d="M63.3 810.2V827.6" stroke="#000" stroke-width="1.7" fill="none"/>
<path d="M64.0 805.8V819.9M64.6 808.5V827.5" stroke="#d4143c" stroke-width="1.4" fill="none"/>
<path d="M65.2 794.4V826.2M65.8 795.7V807.6M66.4 792.9V802.8" stroke="#000" stroke-width="1.7" fill="none"/>
<path d="M67.0 792.2V800.9M67.7 792.7V805.0" stroke="#d4143c" stroke-width="1.4" fill="none"/>
<path d="M68.3 791.6V807.8M68.9 793.0V800.9M69.5 794.4V802.6" stroke="#000" stroke-width="1.7" fill="none"/>
<path d="M70.1 795.8V805.6" stroke="#d4143c" stroke-width="1.4" fill="none"/>
<path d="M70.7 797.2V809.0M71.4 798.5V819.4" stroke="#000" stroke-width="1.7" fill="none"/>
<path d="M72.0 807.3V826.5" stroke="#d4143c" stroke-width="1.4" fill="none"/>
<path d="M72.6 811.7V826.0M73.2 811.3V832.1M73.8 809.0V829.0M74.4 808.0V826.0M75.1 805.7V822.3" stroke="#000" stroke-width="1.7" fill="none"/>
<path d="M75.7 803.7V826.8" stroke="#d4143c" stroke-width="1.4" fill="none"/>
<path d="M76.3 811.3V833.7M76.9 827.8V834.0M77.5 818.5V833.8M78.1 812.9V825.2M78.8 812.0V822.7M79.4 809.6V821.7M80.0 806.2V832.3M80.6 810.4V832.8M81.2 801.5V818.3M81.8 801.0V809.9" stroke="#000" stroke-width="1.7" fill="none"/>
<path d="M82.5 800.5V812.3" stroke="#d4143c" stroke-width="1.4" fill="none"/>
<path d="M83.1 800.0V813.0M83.7 801.0V823.0M84.3 801.3V819.9" stroke="#000" stroke-width="1.7" fill="none"/>
<path d="M84.9 799.2V811.5M85.5 800.8V824.4" stroke="#d4143c" stroke-width="1.4" fill="none"/>
<path d="M86.2 808.8V822.9M86.8 809.0V827.5" stroke="#000" stroke-width="1.7" fill="none"/>
<path d="M87.4 817.2V826.7" stroke="#d4143c" stroke-width="1.4" fill="none"/>
<path d="M88.0 798.8V826.0M88.6 803.3V816.5" stroke="#000" stroke-width="1.7" fill="none"/>
<path d="M89.2 807.4V818.6" stroke="#d4143c" stroke-width="1.4" fill="none"/>
<path d="M89.9 811.7V824.0M90.5 805.6V816.9" stroke="#000" stroke-width="1.7" fill="none"/>
<path d="M91.1 805.0V820.9" stroke="#d4143c" stroke-width="1.4" fill="none"/>
<path d="M91.7 812.5V823.7" stroke="#000" stroke-width="1.7" fill="none"/>
<path d="M92.3 814.0V826.6" stroke="#d4143c" stroke-width="1.4" fill="none"/>
<path d="M92.9 816.5V829.3M93.6 817.5V829.8M94.2 817.5V829.5M94.8 808.3V828.6M95.4 805.1V825.9" stroke="#000" stroke-width="1.7" fill="none"/>
<path d="M96.0 799.1V828.8" stroke="#d4143c" stroke-width="1.4" fill="none"/>
<path d="M96.6 818.0V828.5M97.3 806.8V828.3" stroke="#000" stroke-width="1.7" fill="none"/>
<path d="M97.9 804.0V818.9" stroke="#d4143c" stroke-width="1.4" fill="none"/>
<path d="M98.5 809.3V827.2M99.1 812.0V826.2" stroke="#000" stroke-width="1.7" fill="none"/>
<path d="M99.7 816.8V825.2" stroke="#d4143c" stroke-width="1.4" fill="none"/>
<path d="M100.3 815.2V824.3M101.0 814.5V823.3M101.6 809.5V822.3M102.2 812.9V821.3M102.8 795.7V820.3M103.4 793.0V808.9" stroke="#000" stroke-width="1.7" fill="none"/>
<path d="M104.0 793.6V818.3" stroke="#d4143c" stroke-width="1.4" fill="none"/>
<path d="M104.7 803.7V817.4M105.3 801.5V813.9M105.9 798.8V815.4" stroke="#000" stroke-width="1.7" fill="none"/>
<path d="M106.5 803.2V814.4" stroke="#d4143c" stroke-width="1.4" fill="none"/>
<path d="M107.1 788.1V813.4M107.7 787.7V805.5M108.4 785.5V810.5M109.0 798.0V807.9M109.6 786.8V805.2" stroke="#000" stroke-width="1.7" fill="none"/>
<path d="M110.2 784.0V796.6M110.8 786.3V799.7M111.4 786.7V797.4" stroke="#d4143c" stroke-width="1.4" fill="none"/>
<path d="M112.1 781.1V794.9M112.7 778.2V793.3M113.3 783.4V791.8M113.9 777.2V788.0M114.5 769.8V784.7" stroke="#000" stroke-width="1.7" fill="none"/>
<path d="M115.1 762.7V781.7" stroke="#d4143c" stroke-width="1.4" fill="none"/>
<path d="M115.8 765.9V782.5M116.4 759.6V779.4M117.0 743.4V757.1" stroke="#000" stroke-width="1.7" fill="none"/>
<path d="M117.6 736.3V751.1" stroke="#d4143c" stroke-width="1.4" fill="none"/>
<path d="M118.2 731.2V746.0" stroke="#000" stroke-width="1.7" fill="none"/>
<path d="M118.8 727.3V757.7" stroke="#d4143c" stroke-width="1.4" fill="none"/>
<path d="M119.5 732.9V753.9M120.1 712.6V738.7M120.7 710.0V728.2M121.3 699.1V730.2M121.9 704.0V723.7" stroke="#000" stroke-width="1.7" fill="none"/>
<path d="M122.5 701.0V729.2" stroke="#d4143c" stroke-width="1.4" fill="none"/>
<path d="M123.2 697.1V722.8M123.8 679.4V718.4M124.4 675.7V694.2" stroke="#000" stroke-width="1.7" fill="none"/>
<path d="M125.0 685.2V716.8M125.6 714.4V743.8" stroke="#d4143c" stroke-width="1.4" fill="none"/>
<path d="M126.2 732.6V761.2M126.9 727.4V758.3M127.5 734.5V773.8M128.1 744.8V776.8" stroke="#000" stroke-width="1.7" fill="none"/>
<path d="M128.7 743.8V764.3" stroke="#d4143c" stroke-width="1.4" fill="none"/>
<path d="M129.3 742.8V765.0M129.9 741.8V752.5M130.6 740.7V751.2" stroke="#000" stroke-width="1.7" fill="none"/>
<path d="M131.2 739.1V760.6" stroke="#d4143c" stroke-width="1.4" fill="none"/>
<path d="M131.8 741.2V762.7M132.4 741.3V755.9" stroke="#000" stroke-width="1.7" fill="none"/>
<path d="M133.0 744.9V763.4" stroke="#d4143c" stroke-width="1.4" fill="none"/>
<path d="M133.6 740.3V761.4M134.3 733.3V745.9" stroke="#000" stroke-width="1.7" fill="none"/>
<path d="M134.9 735.2V758.3" stroke="#d4143c" stroke-width="1.4" fill="none"/>
<path d="M135.5 746.0V757.0M136.1 731.5V755.8M136.7 734.3V754.5M137.3 734.5V753.3" stroke="#000" stroke-width="1.7" fill="none"/>
<path d="M138.0 731.3V743.5" stroke="#d4143c" stroke-width="1.4" fill="none"/>
<path d="M138.6 719.6V746.3M139.2 719.4V731.5" stroke="#000" stroke-width="1.7" fill="none"/>
<path d="M139.8 718.4V741.7" stroke="#d4143c" stroke-width="1.4" fill="none"/>
<path d="M140.4 729.7V741.7M141.0 723.3V741.5M141.7 720.6V742.2M142.3 711.3V735.4M142.9 707.0V732.6" stroke="#000" stroke-width="1.7" fill="none"/>
<path d="M143.5 713.4V727.1M144.1 712.5V732.2M144.7 715.7V735.7" stroke="#d4143c" stroke-width="1.4" fill="none"/>
<path d="M145.4 697.9V736.2" stroke="#000" stroke-width="1.7" fill="none"/>
<path d="M146.0 696.6V713.9" stroke="#d4143c" stroke-width="1.4" fill="none"/>
<path d="M146.6 683.9V715.6" stroke="#000" stroke-width="1.7" fill="none"/>
<path d="M147.2 682.2V721.7M147.8 711.0V731.3" stroke="#d4143c" stroke-width="1.4" fill="none"/>
<path d="M148.4 707.0V733.8M149.1 709.0V724.7" stroke="#000" stroke-width="1.7" fill="none"/>
<path d="M149.7 706.6V724.3" stroke="#d4143c" stroke-width="1.4" fill="none"/>
<path d="M150.3 698.1V729.0M150.9 698.4V716.2M151.5 698.6V712.7M152.1 698.9V716.5M152.8 699.1V712.9M153.4 699.4V712.1M154.0 699.6V710.3" stroke="#000" stroke-width="1.7" fill="none"/>
<path d="M154.6 699.8V722.8M155.2 713.2V738.7" stroke="#d4143c" stroke-width="1.4" fill="none"/>
<path d="M155.8 723.4V738.3M156.5 718.8V740.3M157.1 719.7V734.4" stroke="#000" stroke-width="1.7" fill="none"/>
<path d="M157.7 714.6V728.9" stroke="#d4143c" stroke-width="1.4" fill="none"/>
<path d="M158.3 722.0V736.2" stroke="#000" stroke-width="1.7" fill="none"/>
<path d="M158.9 718.8V734.1" stroke="#d4143c" stroke-width="1.4" fill="none"/>
<path d="M159.5 715.8V734.3" stroke="#000" stroke-width="1.7" fill="none"/>
<path d="M160.2 717.4V736.0" stroke="#d4143c" stroke-width="1.4" fill="none"/>
<path d="M160.8 712.6V732.3" stroke="#000" stroke-width="1.7" fill="none"/>
<path d="M161.4 715.9V734.7" stroke="#d4143c" stroke-width="1.4" fill="none"/>
<path d="M162.0 719.1V734.2M162.6 722.0V733.6M163.2 706.7V733.1M163.9 709.2V721.3M164.5 699.3V723.0" stroke="#000" stroke-width="1.7" fill="none"/>
<path d="M165.1 701.1V713.9" stroke="#d4143c" stroke-width="1.4" fill="none"/>
<path d="M165.7 701.3V716.7" stroke="#000" stroke-width="1.7" fill="none"/>
<path d="M166.3 703.3V726.1" stroke="#d4143c" stroke-width="1.4" fill="none"/>
<path d="M166.9 704.6V717.9M167.6 703.8V719.2" stroke="#000" stroke-width="1.7" fill="none"/>
<path d="M168.2 707.7V720.1" stroke="#d4143c" stroke-width="1.4" fill="none"/>
<path d="M168.8 705.3V717.7M169.4 702.0V724.1M170.0 710.7V727.5" stroke="#000" stroke-width="1.7" fill="none"/>
<path d="M170.6 711.9V727.0M171.3 719.5V726.4" stroke="#d4143c" stroke-width="1.4" fill="none"/>
<path d="M171.9 716.2V725.9M172.5 713.4V723.9M173.1 711.1V724.0M173.7 700.8V721.3M174.3 703.2V714.3M175.0 701.5V711.8M175.6 694.6V710.7" stroke="#000" stroke-width="1.7" fill="none"/>
<path d="M176.2 698.6V708.8" stroke="#d4143c" stroke-width="1.4" fill="none"/>
<path d="M176.8 691.9V704.9" stroke="#000" stroke-width="1.7" fill="none"/>
<path d="M177.4 688.9V707.4M178.0 695.1V709.9" stroke="#d4143c" stroke-width="1.4" fill="none"/>
<path d="M178.7 692.7V708.5M179.3 699.4V705.7M179.9 693.5V703.0M180.5 677.4V699.4" stroke="#000" stroke-width="1.7" fill="none"/>
<path d="M181.1 676.6V690.6" stroke="#d4143c" stroke-width="1.4" fill="none"/>
<path d="M181.7 670.3V686.4M182.4 667.1V678.9" stroke="#000" stroke-width="1.7" fill="none"/>
<path d="M183.0 663.3V673.4" stroke="#d4143c" stroke-width="1.4" fill="none"/>
<path d="M183.6 651.0V669.2" stroke="#000" stroke-width="1.7" fill="none"/>
<path d="M184.2 643.0V666.4" stroke="#d4143c" stroke-width="1.4" fill="none"/>
<path d="M184.8 649.3V661.6M185.4 639.4V653.4M186.1 626.3V646.7M186.7 617.1V638.2M187.3 611.2V624.3M187.9 600.9V622.9M188.5 596.3V615.0" stroke="#000" stroke-width="1.7" fill="none"/>
<path d="M189.1 592.4V614.8" stroke="#d4143c" stroke-width="1.4" fill="none"/>
<path d="M189.8 601.5V623.8M190.4 592.4V617.1" stroke="#000" stroke-width="1.7" fill="none"/>
<path d="M191.0 585.9V609.3" stroke="#d4143c" stroke-width="1.4" fill="none"/>
<path d="M191.6 588.1V601.4M192.2 542.6V593.5M192.8 541.6V591.6M193.5 579.5V594.6M194.1 575.7V593.8" stroke="#000" stroke-width="1.7" fill="none"/>
<path d="M194.7 585.0V603.2" stroke="#d4143c" stroke-width="1.4" fill="none"/>
<path d="M195.3 606.6V623.9M195.9 628.9V644.6M196.5 622.4V645.1M197.2 610.5V638.5M197.8 599.4V623.4" stroke="#000" stroke-width="1.7" fill="none"/>
<path d="M198.4 600.8V618.8" stroke="#d4143c" stroke-width="1.4" fill="none"/>
<path d="M199.0 587.4V609.6M199.6 583.9V600.6M200.2 584.2V621.0M200.9 593.8V623.2M201.5 587.5V615.3M202.1 574.8V607.5M202.7 573.2V592.2M203.3 571.7V593.1M203.9 572.9V598.6" stroke="#000" stroke-width="1.7" fill="none"/>
<path d="M204.6 574.2V601.4" stroke="#d4143c" stroke-width="1.4" fill="none"/>
<path d="M205.2 580.2V597.3M205.8 573.9V590.9" stroke="#000" stroke-width="1.7" fill="none"/>
<path d="M206.4 572.4V605.3M207.0 590.2V607.2M207.6 588.7V607.1" stroke="#d4143c" stroke-width="1.4" fill="none"/>
<path d="M208.3 569.2V605.2M208.9 565.4V582.6M209.5 553.6V580.4M210.1 551.9V566.8M210.7 551.6V563.1" stroke="#000" stroke-width="1.7" fill="none"/>
<path d="M211.3 551.3V589.1M212.0 572.8V591.8" stroke="#d4143c" stroke-width="1.4" fill="none"/>
<path d="M212.6 580.5V596.8M213.2 572.7V596.0M213.8 557.7V583.6" stroke="#000" stroke-width="1.7" fill="none"/>
<path d="M214.4 557.5V594.5" stroke="#d4143c" stroke-width="1.4" fill="none"/>
<path d="M215.0 578.7V593.7M215.7 580.0V592.9M216.3 580.2V592.1M216.9 573.2V591.4M217.5 574.1V590.6M218.1 543.4V590.0" stroke="#000" stroke-width="1.7" fill="none"/>
<path d="M218.7 557.8V573.9" stroke="#d4143c" stroke-width="1.4" fill="none"/>
<path d="M219.4 566.1V588.4M220.0 554.6V587.7M220.6 562.9V583.3M221.2 565.2V581.6M221.8 556.4V579.3M222.4 556.4V574.3M223.1 556.1V566.5" stroke="#000" stroke-width="1.7" fill="none"/>
<path d="M223.7 556.7V574.7" stroke="#d4143c" stroke-width="1.4" fill="none"/>
<path d="M224.3 565.6V578.7" stroke="#000" stroke-width="1.7" fill="none"/>
<path d="M224.9 570.9V585.2" stroke="#d4143c" stroke-width="1.4" fill="none"/>
<path d="M225.5 567.8V583.2M226.1 570.5V584.7" stroke="#000" stroke-width="1.7" fill="none"/>
<path d="M226.8 573.4V590.0M227.4 582.5V591.6" stroke="#d4143c" stroke-width="1.4" fill="none"/>
<path d="M228.0 572.2V594.2M228.6 572.4V589.5M229.2 569.4V587.3" stroke="#000" stroke-width="1.7" fill="none"/>
<path d="M229.8 576.3V588.3" stroke="#d4143c" stroke-width="1.4" fill="none"/>
<path d="M230.5 583.0V601.7M231.1 577.6V600.5M231.7 576.9V588.5M232.3 576.7V587.6" stroke="#000" stroke-width="1.7" fill="none"/>
<path d="M232.9 574.3V592.7" stroke="#d4143c" stroke-width="1.4" fill="none"/>
<path d="M233.5 571.8V584.0" stroke="#000" stroke-width="1.7" fill="none"/>
<path d="M234.2 569.3V577.1" stroke="#d4143c" stroke-width="1.4" fill="none"/>
<path d="M234.8 566.9V577.4M235.4 564.4V575.8M236.0 561.9V579.6" stroke="#000" stroke-width="1.7" fill="none"/>
<path d="M236.6 557.7V580.2" stroke="#d4143c" stroke-width="1.4" fill="none"/>
<path d="M237.2 557.3V577.3M237.9 559.1V585.7" stroke="#000" stroke-width="1.7" fill="none"/>
<path d="M238.5 560.7V582.3M239.1 563.6V589.8" stroke="#d4143c" stroke-width="1.4" fill="none"/>
<path d="M239.7 568.8V588.1M240.3 554.1V588.3M240.9 563.6V584.7" stroke="#000" stroke-width="1.7" fill="none"/>
<path d="M241.6 561.6V582.2" stroke="#d4143c" stroke-width="1.4" fill="none"/>
<path d="M242.2 533.5V576.5" stroke="#000" stroke-width="1.7" fill="none"/>
<path d="M242.8 533.1V576.0" stroke="#d4143c" stroke-width="1.4" fill="none"/>
<path d="M243.4 534.2V570.8" stroke="#000" stroke-width="1.7" fill="none"/>
<path d="M244.0 528.1V564.7" stroke="#d4143c" stroke-width="1.4" fill="none"/>
<path d="M244.6 539.4V558.5M245.3 522.4V552.3M245.9 508.9V529.1M246.5 497.5V517.7M247.1 481.1V518.8" stroke="#000" stroke-width="1.7" fill="none"/>
<path d="M247.7 476.1V508.8" stroke="#d4143c" stroke-width="1.4" fill="none"/>
<path d="M248.3 481.5V503.0M249.0 472.4V495.5M249.6 464.3V483.8M250.2 461.1V497.8M250.8 458.2V507.2" stroke="#000" stroke-width="1.7" fill="none"/>
<path d="M251.4 474.2V507.4M252.1 496.1V520.0" stroke="#d4143c" stroke-width="1.4" fill="none"/>
<path d="M252.7 510.7V520.0M253.3 507.5V519.6M253.9 506.6V518.9M254.5 493.0V518.1M255.1 491.7V511.0" stroke="#000" stroke-width="1.7" fill="none"/>
<path d="M255.8 497.7V513.0M256.4 499.2V515.8" stroke="#d4143c" stroke-width="1.4" fill="none"/>
<path d="M257.0 497.2V509.9" stroke="#000" stroke-width="1.7" fill="none"/>
<path d="M257.6 500.8V515.8" stroke="#d4143c" stroke-width="1.4" fill="none"/>
<path d="M258.2 504.7V516.5M258.8 483.7V517.3M259.5 481.2V492.9M260.1 481.5V489.4M260.7 481.8V491.3" stroke="#000" stroke-width="1.7" fill="none"/>
<path d="M261.3 482.7V499.1" stroke="#d4143c" stroke-width="1.4" fill="none"/>
<path d="M261.9 487.9V505.4" stroke="#000" stroke-width="1.7" fill="none"/>
<path d="M262.5 499.8V514.8" stroke="#d4143c" stroke-width="1.4" fill="none"/>
<path d="M263.2 499.1V522.2" stroke="#000" stroke-width="1.7" fill="none"/>
<path d="M263.8 500.8V518.8" stroke="#d4143c" stroke-width="1.4" fill="none"/>
<path d="M264.4 501.4V517.2" stroke="#000" stroke-width="1.7" fill="none"/>
<path d="M265.0 516.0V534.3" stroke="#d4143c" stroke-width="1.4" fill="none"/>
<path d="M265.6 528.5V548.4" stroke="#000" stroke-width="1.7" fill="none"/>
<path d="M266.2 544.0V572.6" stroke="#d4143c" stroke-width="1.4" fill="none"/>
<path d="M266.9 562.0V584.2" stroke="#000" stroke-width="1.7" fill="none"/>
<path d="M267.5 568.3V619.4" stroke="#d4143c" stroke-width="1.4" fill="none"/>
<path d="M268.1 563.8V631.7M268.7 573.4V597.0M269.3 583.7V604.7" stroke="#000" stroke-width="1.7" fill="none"/>
<path d="M269.9 594.1V628.3" stroke="#d4143c" stroke-width="1.4" fill="none"/>
<path d="M270.6 612.8V666.3" stroke="#000" stroke-width="1.7" fill="none"/>
<path d="M271.2 638.8V671.6" stroke="#d4143c" stroke-width="1.4" fill="none"/>
<path d="M271.8 643.6V666.4M272.4 624.0V650.8M273.0 607.3V643.2M273.6 605.9V633.3M274.3 602.9V623.4M274.9 597.8V639.6" stroke="#000" stroke-width="1.7" fill="none"/>
<path d="M275.5 616.4V652.6" stroke="#d4143c" stroke-width="1.4" fill="none"/>
<path d="M276.1 618.9V647.5M276.7 604.7V631.1" stroke="#000" stroke-width="1.7" fill="none"/>
<path d="M277.3 604.8V638.3" stroke="#d4143c" stroke-width="1.4" fill="none"/>
<path d="M278.0 612.4V635.2M278.6 604.0V626.5" stroke="#000" stroke-width="1.7" fill="none"/>
<path d="M279.2 589.5V626.8M279.8 595.9V626.0" stroke="#d4143c" stroke-width="1.4" fill="none"/>
<path d="M280.4 593.1V624.0M281.0 593.3V622.4M281.7 589.5V620.9" stroke="#000" stroke-width="1.7" fill="none"/>
<path d="M282.3 587.3V619.3" stroke="#d4143c" stroke-width="1.4" fill="none"/>
<path d="M282.9 581.5V617.8M283.5 567.3V604.3M284.1 558.0V579.5M284.7 554.1V584.9M285.4 553.3V584.2M286.0 566.5V590.2" stroke="#000" stroke-width="1.7" fill="none"/>
<path d="M286.6 561.2V583.0" stroke="#d4143c" stroke-width="1.4" fill="none"/>
<path d="M287.2 571.1V589.8" stroke="#000" stroke-width="1.7" fill="none"/>
<path d="M287.8 567.8V586.0" stroke="#d4143c" stroke-width="1.4" fill="none"/>
<path d="M288.4 570.0V588.2M289.1 554.3V583.4M289.7 558.9V597.9M290.3 578.1V597.1M290.9 579.8V596.4" stroke="#000" stroke-width="1.7" fill="none"/>
<path d="M291.5 578.0V595.6" stroke="#d4143c" stroke-width="1.4" fill="none"/>
<path d="M292.1 580.7V594.1M292.8 562.2V590.3M293.4 556.1V579.4M294.0 541.0V563.5" stroke="#000" stroke-width="1.7" fill="none"/>
<path d="M294.6 524.3V560.8" stroke="#d4143c" stroke-width="1.4" fill="none"/>
<path d="M295.2 528.2V560.6M295.8 538.3V571.0M296.5 534.9V566.6M297.1 528.7V552.0M297.7 520.8V557.3M298.3 519.2V552.7" stroke="#000" stroke-width="1.7" fill="none"/>
<path d="M298.9 521.7V541.7" stroke="#d4143c" stroke-width="1.4" fill="none"/>
<path d="M299.5 516.0V537.5M300.2 515.5V539.6M300.8 512.5V530.2M301.4 504.8V530.0M302.0 487.5V533.2M302.6 486.7V513.5M303.2 500.8V518.8" stroke="#000" stroke-width="1.7" fill="none"/>
<path d="M303.9 500.5V527.5" stroke="#d4143c" stroke-width="1.4" fill="none"/>
<path d="M304.5 509.6V529.9M305.1 499.1V524.0" stroke="#000" stroke-width="1.7" fill="none"/>
<path d="M305.7 493.2V523.4" stroke="#d4143c" stroke-width="1.4" fill="none"/>
<path d="M306.3 501.7V528.0" stroke="#000" stroke-width="1.7" fill="none"/>
<path d="M306.9 498.3V529.3" stroke="#d4143c" stroke-width="1.4" fill="none"/>
<path d="M307.6 515.4V529.1M308.2 517.5V529.3M308.8 503.6V530.2" stroke="#000" stroke-width="1.7" fill="none"/>
<path d="M309.4 507.8V528.1" stroke="#d4143c" stroke-width="1.4" fill="none"/>
<path d="M310.0 502.7V524.0M310.6 496.6V520.4M311.3 491.5V514.8" stroke="#000" stroke-width="1.7" fill="none"/>
<path d="M311.9 489.9V523.5" stroke="#d4143c" stroke-width="1.4" fill="none"/>
<path d="M312.5 497.7V519.6" stroke="#000" stroke-width="1.7" fill="none"/>
<path d="M313.1 510.2V535.0" stroke="#d4143c" stroke-width="1.4" fill="none"/>
<path d="M313.7 492.0V535.3M314.3 491.2V512.8M315.0 491.5V522.6" stroke="#000" stroke-width="1.7" fill="none"/>
<path d="M315.6 509.0V536.9" stroke="#d4143c" stroke-width="1.4" fill="none"/>
<path d="M316.2 504.7V531.8M316.8 492.7V516.5M317.4 487.7V502.4M318.0 485.9V499.7" stroke="#000" stroke-width="1.7" fill="none"/>
<path d="M318.7 484.0V499.8" stroke="#d4143c" stroke-width="1.4" fill="none"/>
<path d="M319.3 482.2V492.0M319.9 480.3V503.8M320.5 484.9V502.2M321.1 483.8V498.0M321.7 478.9V498.4" stroke="#000" stroke-width="1.7" fill="none"/>
<path d="M322.4 479.6V498.0" stroke="#d4143c" stroke-width="1.4" fill="none"/>
<path d="M323.0 478.9V495.3" stroke="#000" stroke-width="1.7" fill="none"/>
<path d="M323.6 476.4V497.4" stroke="#d4143c" stroke-width="1.4" fill="none"/>
<path d="M324.2 484.8V502.5M324.8 475.2V496.3M325.4 474.1V481.4" stroke="#000" stroke-width="1.7" fill="none"/>
<path d="M326.1 472.9V491.9" stroke="#d4143c" stroke-width="1.4" fill="none"/>
<path d="M326.7 480.5V490.9M327.3 471.1V494.0M327.9 469.2V479.0" stroke="#000" stroke-width="1.7" fill="none"/>
<path d="M328.5 468.0V488.7" stroke="#d4143c" stroke-width="1.4" fill="none"/>
<path d="M329.1 470.8V485.2M329.8 465.8V477.6" stroke="#000" stroke-width="1.7" fill="none"/>
<path d="M330.4 456.9V481.1" stroke="#d4143c" stroke-width="1.4" fill="none"/>
<path d="M331.0 457.6V472.9M331.6 430.2V461.7M332.2 416.8V439.3" stroke="#000" stroke-width="1.7" fill="none"/>
<path d="M332.8 403.5V436.2" stroke="#d4143c" stroke-width="1.4" fill="none"/>
<path d="M333.5 403.4V432.3" stroke="#000" stroke-width="1.7" fill="none"/>
<path d="M334.1 395.5V431.6" stroke="#d4143c" stroke-width="1.4" fill="none"/>
<path d="M334.7 386.6V433.9" stroke="#000" stroke-width="1.7" fill="none"/>
<path d="M335.3 381.7V406.6M335.9 379.8V421.4" stroke="#d4143c" stroke-width="1.4" fill="none"/>
<path d="M336.5 378.4V411.8" stroke="#000" stroke-width="1.7" fill="none"/>
<path d="M337.2 380.7V401.5" stroke="#d4143c" stroke-width="1.4" fill="none"/>
<path d="M337.8 375.5V400.4" stroke="#000" stroke-width="1.7" fill="none"/>
<path d="M338.4 373.2V401.2" stroke="#d4143c" stroke-width="1.4" fill="none"/>
<path d="M339.0 376.8V392.5M339.6 375.6V394.6M340.2 371.4V393.7M340.9 366.7V383.4M341.5 370.0V384.7M342.1 370.9V388.8M342.7 361.5V378.0M343.3 357.7V369.7M343.9 351.3V365.2M344.6 345.0V361.6M345.2 338.7V354.9M345.8 332.3V343.8M346.4 326.0V340.4" stroke="#000" stroke-width="1.7" fill="none"/>
<path d="M347.0 320.5V334.8" stroke="#d4143c" stroke-width="1.4" fill="none"/>
<path d="M347.6 315.8V331.0M348.3 311.0V331.0M348.9 306.3V322.5" stroke="#000" stroke-width="1.7" fill="none"/>
<path d="M349.5 299.9V324.5" stroke="#d4143c" stroke-width="1.4" fill="none"/>
<path d="M350.1 290.4V324.6" stroke="#000" stroke-width="1.7" fill="none"/>
<path d="M350.7 280.3V323.0" stroke="#d4143c" stroke-width="1.4" fill="none"/>
<path d="M351.3 270.0V310.3" stroke="#000" stroke-width="1.7" fill="none"/>
<path d="M352.0 265.1V297.5" stroke="#d4143c" stroke-width="1.4" fill="none"/>
<path d="M352.6 286.8V305.4M353.2 285.1V305.8" stroke="#000" stroke-width="1.7" fill="none"/>
<path d="M353.8 295.0V311.4" stroke="#d4143c" stroke-width="1.4" fill="none"/>
<path d="M354.4 303.5V327.9" stroke="#000" stroke-width="1.7" fill="none"/>
<path d="M355.0 306.0V328.9" stroke="#d4143c" stroke-width="1.4" fill="none"/>
<path d="M355.7 312.7V342.5M356.3 319.9V339.6M356.9 322.1V342.5M357.5 327.6V339.0M358.1 325.1V339.7M358.7 319.8V330.2M359.4 317.4V327.3" stroke="#000" stroke-width="1.7" fill="none"/>
<path d="M360.0 311.3V323.1" stroke="#d4143c" stroke-width="1.4" fill="none"/>
<path d="M360.6 303.0V322.1M361.2 298.4V312.1M361.8 293.7V300.2" stroke="#000" stroke-width="1.7" fill="none"/>
<path d="M362.4 289.0V301.9" stroke="#d4143c" stroke-width="1.4" fill="none"/>
<path d="M363.1 284.3V295.4" stroke="#000" stroke-width="1.7" fill="none"/>
<path d="M363.7 291.1V308.8" stroke="#d4143c" stroke-width="1.4" fill="none"/>
<path d="M364.3 303.7V317.8M364.9 308.3V321.3M365.5 314.1V329.5M366.1 320.6V335.2" stroke="#000" stroke-width="1.7" fill="none"/>
<path d="M366.8 321.1V356.6" stroke="#d4143c" stroke-width="1.4" fill="none"/>
<path d="M367.4 346.3V363.0M368.0 337.9V367.6M368.6 330.8V360.5M369.2 337.2V360.7" stroke="#000" stroke-width="1.7" fill="none"/>
<path d="M369.8 348.7V376.6" stroke="#d4143c" stroke-width="1.4" fill="none"/>
<path d="M370.5 356.0V380.9" stroke="#000" stroke-width="1.7" fill="none"/>
<path d="M371.1 346.5V393.8" stroke="#d4143c" stroke-width="1.4" fill="none"/>
<path d="M371.7 376.5V398.6M372.3 361.8V404.0M372.9 344.3V369.9M373.5 343.5V361.9M374.2 340.8V359.6" stroke="#000" stroke-width="1.7" fill="none"/>
<path d="M374.8 338.1V366.6M375.4 335.4V362.5" stroke="#d4143c" stroke-width="1.4" fill="none"/>
<path d="M376.0 332.6V355.1M376.6 329.9V343.7" stroke="#000" stroke-width="1.7" fill="none"/>
<path d="M377.2 327.2V364.1M377.9 344.7V366.2M378.5 340.2V357.9" stroke="#d4143c" stroke-width="1.4" fill="none"/>
<path d="M379.1 330.3V367.8M379.7 329.8V341.5M380.3 332.5V350.3" stroke="#000" stroke-width="1.7" fill="none"/>
<path d="M380.9 335.3V355.5M381.6 339.5V356.3" stroke="#d4143c" stroke-width="1.4" fill="none"/>
<path d="M382.2 347.9V362.5" stroke="#000" stroke-width="1.7" fill="none"/>
<path d="M382.8 349.8V371.5M383.4 361.9V386.6" stroke="#d4143c" stroke-width="1.4" fill="none"/>
<path d="M384.0 359.2V385.3M384.6 362.8V377.5" stroke="#000" stroke-width="1.7" fill="none"/>
<path d="M385.3 368.4V380.0" stroke="#d4143c" stroke-width="1.4" fill="none"/>
<path d="M385.9 372.0V398.8M386.5 377.8V402.0" stroke="#000" stroke-width="1.7" fill="none"/>
<path d="M387.1 376.7V394.6" stroke="#d4143c" stroke-width="1.4" fill="none"/>
<path d="M387.7 387.5V397.5" stroke="#000" stroke-width="1.7" fill="none"/>
<path d="M388.3 392.2V404.5" stroke="#d4143c" stroke-width="1.4" fill="none"/>
<path d="M389.0 393.5V405.3M389.6 387.5V402.7" stroke="#000" stroke-width="1.7" fill="none"/>
<path d="M390.2 388.6V404.3" stroke="#d4143c" stroke-width="1.4" fill="none"/>
<path d="M390.8 393.7V404.3M391.4 372.3V403.5M392.0 365.6V389.8" stroke="#000" stroke-width="1.7" fill="none"/>
<path d="M392.7 361.9V379.0" stroke="#d4143c" stroke-width="1.4" fill="none"/>
<path d="M393.3 358.1V371.1M393.9 354.8V366.0" stroke="#000" stroke-width="1.7" fill="none"/>
<path d="M394.5 351.5V364.1M395.1 348.1V365.2" stroke="#d4143c" stroke-width="1.4" fill="none"/>
<path d="M395.7 344.8V371.9M396.4 341.5V365.6M397.0 338.1V349.6M397.6 339.1V350.3" stroke="#000" stroke-width="1.7" fill="none"/>
<path d="M398.2 343.5V356.9" stroke="#d4143c" stroke-width="1.4" fill="none"/>
<path d="M398.8 346.3V358.3M399.4 342.5V355.0" stroke="#000" stroke-width="1.7" fill="none"/>
<path d="M400.1 343.6V356.8M400.7 344.8V354.4M401.3 350.2V371.3M401.9 363.5V371.6" stroke="#d4143c" stroke-width="1.4" fill="none"/>
<path d="M402.5 347.3V371.9M403.1 348.1V356.7" stroke="#000" stroke-width="1.7" fill="none"/>
<path d="M403.8 348.9V363.3" stroke="#d4143c" stroke-width="1.4" fill="none"/>
<path d="M404.4 355.8V365.7M405.0 356.4V368.1" stroke="#000" stroke-width="1.7" fill="none"/>
<path d="M405.6 354.8V369.7" stroke="#d4143c" stroke-width="1.4" fill="none"/>
<path d="M406.2 361.5V371.8M406.8 362.0V374.8" stroke="#000" stroke-width="1.7" fill="none"/>
<path d="M407.5 369.2V375.3" stroke="#d4143c" stroke-width="1.4" fill="none"/>
<path d="M408.1 360.3V375.7M408.7 359.4V369.4M409.3 362.2V366.0" stroke="#000" stroke-width="1.7" fill="none"/>
<path d="M409.9 365.0V376.5M410.5 373.7V387.6" stroke="#d4143c" stroke-width="1.4" fill="none"/>
<path d="M411.2 373.3V389.2M411.8 376.6V386.5" stroke="#000" stroke-width="1.7" fill="none"/>
<path d="M412.4 380.3V401.7" stroke="#d4143c" stroke-width="1.4" fill="none"/>
<path d="M413.0 406.5V421.0M413.6 411.4V427.0" stroke="#000" stroke-width="1.7" fill="none"/>
<path d="M414.2 418.0V449.0" stroke="#d4143c" stroke-width="1.4" fill="none"/>
<path d="M414.9 438.9V451.4M415.5 432.8V453.9M416.1 428.8V447.1M416.7 433.2V449.5M417.3 442.1V454.4" stroke="#000" stroke-width="1.7" fill="none"/>
<path d="M417.9 443.8V459.9M418.6 452.0V462.3" stroke="#d4143c" stroke-width="1.4" fill="none"/>
<path d="M419.2 454.2V464.8M419.8 440.9V467.3M420.4 450.3V469.8M421.0 452.8V472.3" stroke="#000" stroke-width="1.7" fill="none"/>
<path d="M421.6 453.0V474.8" stroke="#d4143c" stroke-width="1.4" fill="none"/>
<path d="M422.3 467.6V478.4M422.9 472.5V482.2M423.5 473.2V486.0" stroke="#000" stroke-width="1.7" fill="none"/>
<path d="M424.1 472.6V482.6" stroke="#d4143c" stroke-width="1.4" fill="none"/>
<path d="M424.7 463.8V475.7M425.3 441.8V470.6" stroke="#000" stroke-width="1.7" fill="none"/>
<path d="M426.0 435.1V445.5" stroke="#d4143c" stroke-width="1.4" fill="none"/>
<path d="M426.6 428.7V442.8" stroke="#000" stroke-width="1.7" fill="none"/>
<path d="M427.2 422.2V437.7M427.8 420.6V444.0" stroke="#d4143c" stroke-width="1.4" fill="none"/>
<path d="M428.4 423.8V448.3" stroke="#000" stroke-width="1.7" fill="none"/>
<path d="M429.0 427.0V437.6M429.7 430.1V455.1M430.3 444.2V455.3" stroke="#d4143c" stroke-width="1.4" fill="none"/>
<path d="M430.9 440.1V456.6" stroke="#000" stroke-width="1.7" fill="none"/>
<path d="M431.5 444.1V464.7" stroke="#d4143c" stroke-width="1.4" fill="none"/>
<path d="M432.1 454.9V465.6M432.7 459.9V466.5M433.4 458.9V467.4M434.0 462.2V468.3M434.6 460.7V469.1M435.2 455.1V468.7M435.8 456.5V465.1M436.4 458.9V467.7M437.1 458.0V470.8" stroke="#000" stroke-width="1.7" fill="none"/>
<path d="M437.7 463.5V475.8" stroke="#d4143c" stroke-width="1.4" fill="none"/>
<path d="M438.3 465.4V480.2" stroke="#000" stroke-width="1.7" fill="none"/>
<path d="M438.9 465.1V483.2" stroke="#d4143c" stroke-width="1.4" fill="none"/>
<path d="M439.5 463.5V482.9" stroke="#000" stroke-width="1.7" fill="none"/>
<path d="M440.1 462.9V468.8" stroke="#d4143c" stroke-width="1.4" fill="none"/>
<path d="M440.8 462.4V475.9" stroke="#000" stroke-width="1.7" fill="none"/>
<path d="M441.4 471.4V483.2" stroke="#d4143c" stroke-width="1.4" fill="none"/>
<path d="M442.0 477.6V483.1M442.6 472.5V483.0M443.2 462.2V477.1M443.8 455.5V467.8M444.5 450.5V461.7M445.1 447.4V457.7M445.7 450.7V461.1" stroke="#000" stroke-width="1.7" fill="none"/>
<path d="M446.3 454.7V480.8" stroke="#d4143c" stroke-width="1.4" fill="none"/>
<path d="M446.9 473.4V483.9M447.5 474.1V484.8M448.2 473.9V485.3M448.8 475.3V486.7" stroke="#000" stroke-width="1.7" fill="none"/>
<path d="M449.4 478.6V487.0" stroke="#d4143c" stroke-width="1.4" fill="none"/>
<path d="M450.0 468.1V486.3" stroke="#000" stroke-width="1.7" fill="none"/>
<path d="M450.6 470.7V478.7" stroke="#d4143c" stroke-width="1.4" fill="none"/>
<path d="M451.2 467.6V487.0M451.9 481.8V487.0M452.5 477.0V486.7M453.1 475.6V486.4M453.7 464.3V485.9M454.3 470.2V485.7" stroke="#000" stroke-width="1.7" fill="none"/>
<path d="M454.9 472.1V485.4" stroke="#d4143c" stroke-width="1.4" fill="none"/>
<path d="M455.6 452.1V485.0M456.2 472.8V485.6M456.8 475.1V486.2" stroke="#000" stroke-width="1.7" fill="none"/>
<path d="M457.4 477.5V486.9" stroke="#d4143c" stroke-width="1.4" fill="none"/>
<path d="M458.0 477.7V487.5M458.6 477.3V488.1M459.3 480.2V488.8M459.9 479.8V491.2M460.5 481.7V489.6" stroke="#000" stroke-width="1.7" fill="none"/>
<path d="M461.1 483.0V498.2" stroke="#d4143c" stroke-width="1.4" fill="none"/>
<path d="M461.7 493.6V501.7M462.3 490.5V502.3M463.0 492.9V502.4M463.6 496.3V505.5M464.2 496.6V513.2M464.8 502.9V513.1M465.4 506.8V522.4M466.0 499.7V521.5M466.7 502.8V514.5M467.3 505.9V543.9M467.9 506.9V546.1M468.5 511.7V537.4M469.1 513.6V526.8M469.7 499.3V525.5M470.4 499.4V512.1M471.0 496.9V509.8M471.6 488.9V507.6M472.2 487.5V509.2" stroke="#000" stroke-width="1.7" fill="none"/>
<path d="M472.8 500.6V520.2M473.4 514.2V526.1" stroke="#d4143c" stroke-width="1.4" fill="none"/>
<path d="M474.1 505.4V527.0M474.7 510.8V522.0M475.3 505.9V520.9" stroke="#000" stroke-width="1.7" fill="none"/>
<path d="M475.9 507.4V529.9" stroke="#d4143c" stroke-width="1.4" fill="none"/>
<path d="M476.5 513.0V530.5" stroke="#000" stroke-width="1.7" fill="none"/>
<path d="M477.1 514.1V529.9" stroke="#d4143c" stroke-width="1.4" fill="none"/>
<path d="M477.8 512.7V527.6" stroke="#000" stroke-width="1.7" fill="none"/>
<path d="M478.4 511.9V527.8" stroke="#d4143c" stroke-width="1.4" fill="none"/>
<path d="M479.0 519.1V531.8M479.6 510.0V528.2M480.2 508.1V534.1M480.8 511.1V534.3M481.5 510.8V524.0M482.1 509.0V522.7" stroke="#000" stroke-width="1.7" fill="none"/>
<path d="M482.7 510.1V522.8M483.3 511.3V530.1" stroke="#d4143c" stroke-width="1.4" fill="none"/>
<path d="M483.9 523.6V531.8M484.6 520.0V535.3M485.2 522.7V532.3" stroke="#000" stroke-width="1.7" fill="none"/>
<path d="M485.8 523.7V536.0" stroke="#d4143c" stroke-width="1.4" fill="none"/>
<path d="M486.4 527.4V537.4M487.0 520.7V538.2M487.6 518.6V526.0M488.3 519.4V525.3" stroke="#000" stroke-width="1.7" fill="none"/>
<path d="M488.9 520.3V533.0" stroke="#d4143c" stroke-width="1.4" fill="none"/>
<path d="M489.5 526.9V535.4" stroke="#000" stroke-width="1.7" fill="none"/>
<path d="M490.1 527.7V544.9" stroke="#d4143c" stroke-width="1.4" fill="none"/>
<path d="M490.7 530.9V545.0M491.3 523.8V538.6M492.0 523.9V535.2M492.6 526.1V543.7" stroke="#000" stroke-width="1.7" fill="none"/>
<path d="M493.2 534.0V543.2" stroke="#d4143c" stroke-width="1.4" fill="none"/>
<path d="M493.8 533.8V545.2M494.4 532.7V541.9" stroke="#000" stroke-width="1.7" fill="none"/>
<path d="M495.0 533.5V548.5" stroke="#d4143c" stroke-width="1.4" fill="none"/>
<path d="M495.7 530.7V548.4" stroke="#000" stroke-width="1.7" fill="none"/>
<path d="M496.3 527.8V538.4" stroke="#d4143c" stroke-width="1.4" fill="none"/>
<path d="M496.9 522.4V539.3M497.5 522.3V535.9" stroke="#000" stroke-width="1.7" fill="none"/>
<path d="M498.1 529.9V547.4" stroke="#d4143c" stroke-width="1.4" fill="none"/>
<path d="M498.7 525.6V548.3" stroke="#000" stroke-width="1.7" fill="none"/>
<path d="M499.4 525.4V540.3" stroke="#d4143c" stroke-width="1.4" fill="none"/>
<path d="M500.0 530.3V542.7M500.6 533.8V542.3" stroke="#000" stroke-width="1.7" fill="none"/>
<path d="M501.2 534.6V547.8" stroke="#d4143c" stroke-width="1.4" fill="none"/>
<path d="M501.8 534.3V549.5" stroke="#000" stroke-width="1.7" fill="none"/>
<path d="M502.4 536.0V551.0" stroke="#d4143c" stroke-width="1.4" fill="none"/>
<path d="M503.1 537.4V550.9" stroke="#000" stroke-width="1.7" fill="none"/>
<path d="M503.7 538.8V548.2" stroke="#d4143c" stroke-width="1.4" fill="none"/>
<path d="M504.3 541.0V560.6M504.9 535.2V546.9" stroke="#000" stroke-width="1.7" fill="none"/>
<path d="M505.5 530.9V550.6" stroke="#d4143c" stroke-width="1.4" fill="none"/>
<path d="M506.1 539.8V551.4M506.8 528.1V542.6M507.4 521.4V535.6" stroke="#000" stroke-width="1.7" fill="none"/>
<path d="M508.0 522.6V532.6M508.6 525.9V535.9M509.2 528.1V539.3" stroke="#d4143c" stroke-width="1.4" fill="none"/>
<path d="M509.8 518.7V538.3M510.5 518.6V531.5M511.1 514.7V528.4" stroke="#000" stroke-width="1.7" fill="none"/>
<path d="M511.7 512.4V523.8M512.3 513.7V524.1" stroke="#d4143c" stroke-width="1.4" fill="none"/>
<path d="M512.9 507.9V528.0M513.5 505.6V515.0M514.2 503.0V511.5M514.8 500.4V507.5M515.4 497.7V506.2" stroke="#000" stroke-width="1.7" fill="none"/>
<path d="M516.0 495.0V515.5" stroke="#d4143c" stroke-width="1.4" fill="none"/>
<path d="M516.6 499.5V515.7M517.2 488.3V509.6M517.9 482.5V494.7M518.5 484.9V497.4M519.1 484.3V497.7" stroke="#000" stroke-width="1.7" fill="none"/>
<path d="M519.7 476.8V504.5" stroke="#d4143c" stroke-width="1.4" fill="none"/>
<path d="M520.3 463.7V501.4" stroke="#000" stroke-width="1.7" fill="none"/>
<path d="M520.9 462.7V503.6" stroke="#d4143c" stroke-width="1.4" fill="none"/>
<path d="M521.6 478.7V501.1M522.2 477.9V489.9M522.8 474.4V485.1" stroke="#000" stroke-width="1.7" fill="none"/>
<path d="M523.4 472.0V485.0" stroke="#d4143c" stroke-width="1.4" fill="none"/>
<path d="M524.0 470.2V482.1" stroke="#000" stroke-width="1.7" fill="none"/>
<path d="M524.6 471.5V483.9" stroke="#d4143c" stroke-width="1.4" fill="none"/>
<path d="M525.3 473.1V487.3M525.9 475.8V485.9M526.5 480.5V490.7" stroke="#000" stroke-width="1.7" fill="none"/>
<path d="M527.1 484.4V503.9" stroke="#d4143c" stroke-width="1.4" fill="none"/>
<path d="M527.7 492.7V512.1M528.3 504.5V516.1" stroke="#000" stroke-width="1.7" fill="none"/>
<path d="M529.0 500.8V520.2" stroke="#d4143c" stroke-width="1.4" fill="none"/>
<path d="M529.6 516.0V524.2M530.2 509.2V527.1M530.8 503.3V527.3M531.4 501.7V527.5M532.0 501.0V512.9" stroke="#000" stroke-width="1.7" fill="none"/>
<path d="M532.7 502.0V512.6M533.3 507.7V521.1" stroke="#d4143c" stroke-width="1.4" fill="none"/>
<path d="M533.9 509.6V521.5M534.5 502.4V522.3M535.1 505.4V514.6" stroke="#000" stroke-width="1.7" fill="none"/>
<path d="M535.7 510.4V526.3" stroke="#d4143c" stroke-width="1.4" fill="none"/>
<path d="M536.4 518.0V528.0M537.0 521.7V528.0M537.6 508.8V524.5" stroke="#000" stroke-width="1.7" fill="none"/>
<path d="M538.2 502.2V513.9" stroke="#d4143c" stroke-width="1.4" fill="none"/>
<path d="M538.8 506.9V515.1" stroke="#000" stroke-width="1.7" fill="none"/>
<path d="M539.4 503.8V511.9" stroke="#d4143c" stroke-width="1.4" fill="none"/>
<path d="M540.1 501.4V509.4M540.7 498.2V506.2M541.3 493.3V501.1M541.9 490.4V500.6M542.5 490.7V497.9" stroke="#000" stroke-width="1.7" fill="none"/>
<path d="M543.1 491.8V502.7" stroke="#d4143c" stroke-width="1.4" fill="none"/>
<path d="M543.8 494.3V506.9M544.4 498.7V509.1" stroke="#000" stroke-width="1.7" fill="none"/>
<path d="M545.0 500.9V509.9" stroke="#d4143c" stroke-width="1.4" fill="none"/>
<path d="M545.6 500.7V513.0" stroke="#000" stroke-width="1.7" fill="none"/>
<path d="M546.2 502.2V515.1" stroke="#d4143c" stroke-width="1.4" fill="none"/>
<path d="M546.8 513.0V517.1M547.5 505.1V519.2M548.1 502.2V516.9M548.7 505.3V521.9" stroke="#000" stroke-width="1.7" fill="none"/>
<path d="M549.3 512.2V524.3" stroke="#d4143c" stroke-width="1.4" fill="none"/>
<path d="M549.9 511.0V527.0" stroke="#000" stroke-width="1.7" fill="none"/>
<path d="M550.5 512.4V521.9" stroke="#d4143c" stroke-width="1.4" fill="none"/>
<path d="M551.2 513.8V523.7M551.8 510.9V539.9" stroke="#000" stroke-width="1.7" fill="none"/>
<path d="M552.4 506.5V522.6M553.0 505.9V520.5" stroke="#d4143c" stroke-width="1.4" fill="none"/>
<path d="M553.6 504.9V516.4M554.2 495.9V513.4" stroke="#000" stroke-width="1.7" fill="none"/>
<path d="M554.9 501.6V518.5" stroke="#d4143c" stroke-width="1.4" fill="none"/>
<path d="M555.5 492.4V518.6" stroke="#000" stroke-width="1.7" fill="none"/>
<path d="M556.1 493.4V505.4" stroke="#d4143c" stroke-width="1.4" fill="none"/>
<path d="M556.7 495.8V508.7M557.3 499.5V519.4" stroke="#000" stroke-width="1.7" fill="none"/>
<path d="M557.9 509.7V517.5M558.6 512.8V519.7" stroke="#d4143c" stroke-width="1.4" fill="none"/>
<path d="M559.2 510.2V518.9M559.8 502.0V513.7" stroke="#000" stroke-width="1.7" fill="none"/>
<path d="M560.4 502.0V511.8" stroke="#d4143c" stroke-width="1.4" fill="none"/>
<path d="M561.0 502.0V510.7" stroke="#000" stroke-width="1.7" fill="none"/>
<path d="M561.6 502.0V509.0" stroke="#d4143c" stroke-width="1.4" fill="none"/>
<path d="M562.3 504.8V510.7M562.9 508.9V516.3M563.5 504.1V517.1M564.1 503.4V515.9M564.7 503.8V510.3M565.3 504.2V510.2M566.0 504.6V511.3M566.6 504.9V510.3M567.2 503.8V512.5M567.8 502.8V514.0M568.4 501.9V515.2M569.0 500.6V508.0" stroke="#000" stroke-width="1.7" fill="none"/>
<path d="M569.7 499.6V506.1M570.3 501.2V514.3M570.9 508.3V520.8" stroke="#d4143c" stroke-width="1.4" fill="none"/>
<path d="M571.5 506.8V517.7" stroke="#000" stroke-width="1.7" fill="none"/>
<path d="M572.1 511.6V520.5" stroke="#d4143c" stroke-width="1.4" fill="none"/>
<path d="M572.7 511.0V520.3M573.4 514.1V520.2M574.0 511.2V518.4" stroke="#000" stroke-width="1.7" fill="none"/>
<path d="M574.6 510.6V520.1" stroke="#d4143c" stroke-width="1.4" fill="none"/>
<path d="M575.2 515.1V520.3M575.8 510.8V520.5M576.4 512.3V518.6M577.1 508.2V516.6M577.7 508.1V515.4M578.3 508.3V518.1M578.9 506.2V517.4" stroke="#000" stroke-width="1.7" fill="none"/>
<path d="M579.5 510.3V521.0" stroke="#d4143c" stroke-width="1.4" fill="none"/>
<path d="M580.1 506.5V520.5M580.8 506.9V511.4" stroke="#000" stroke-width="1.7" fill="none"/>
<path d="M581.4 507.4V515.7M582.0 510.3V524.7" stroke="#d4143c" stroke-width="1.4" fill="none"/>
<path d="M582.6 521.3V527.4M583.2 524.0V532.0M583.8 524.0V537.0M584.5 524.5V536.1M585.1 521.5V543.6M585.7 521.0V538.1M586.3 523.8V532.5" stroke="#000" stroke-width="1.7" fill="none"/>
<path d="M586.9 526.5V539.9" stroke="#d4143c" stroke-width="1.4" fill="none"/>
<path d="M587.5 529.2V542.0M588.2 531.9V548.0M588.8 544.7V551.8" stroke="#000" stroke-width="1.7" fill="none"/>
<path d="M589.4 542.9V553.9M590.0 549.9V557.0" stroke="#d4143c" stroke-width="1.4" fill="none"/>
<path d="M590.6 551.4V557.0M591.2 551.0V557.0" stroke="#000" stroke-width="1.7" fill="none"/>
<path d="M591.9 551.6V557.0" stroke="#d4143c" stroke-width="1.4" fill="none"/>
<path d="M592.5 551.8V557.0" stroke="#000" stroke-width="1.7" fill="none"/>
<path d="M593.1 549.3V557.0" stroke="#d4143c" stroke-width="1.4" fill="none"/>
<path d="M593.7 551.5V557.0M594.3 552.7V557.0M594.9 549.4V557.0M595.6 544.4V554.4M596.2 537.6V549.0" stroke="#000" stroke-width="1.7" fill="none"/>
<path d="M596.8 535.8V554.1" stroke="#d4143c" stroke-width="1.4" fill="none"/>
<path d="M597.4 543.4V551.4M598.0 540.9V550.6M598.6 530.5V547.5M599.3 528.7V535.2" stroke="#000" stroke-width="1.7" fill="none"/>
<path d="M599.9 527.0V536.8" stroke="#d4143c" stroke-width="1.4" fill="none"/>
<path d="M600.5 525.2V536.3" stroke="#000" stroke-width="1.7" fill="none"/>
<path d="M601.1 523.5V531.5" stroke="#d4143c" stroke-width="1.4" fill="none"/>
<path d="M601.7 521.8V527.2" stroke="#000" stroke-width="1.7" fill="none"/>
<path d="M602.3 521.7V537.7" stroke="#d4143c" stroke-width="1.4" fill="none"/>
<path d="M603.0 530.3V546.5M603.6 532.1V546.9M604.2 534.5V547.2M604.8 541.2V547.6M605.4 541.5V547.9M606.0 537.8V548.2M606.7 535.8V542.8" stroke="#000" stroke-width="1.7" fill="none"/>
<path d="M607.3 537.1V546.0M607.9 537.1V549.1" stroke="#d4143c" stroke-width="1.4" fill="none"/>
<path d="M608.5 539.2V549.4" stroke="#000" stroke-width="1.7" fill="none"/>
<path d="M609.1 543.5V549.7" stroke="#d4143c" stroke-width="1.4" fill="none"/>
<path d="M609.7 545.5V550.0M610.4 543.3V549.7M611.0 544.6V549.4" stroke="#000" stroke-width="1.7" fill="none"/>
<path d="M611.6 543.4V549.1" stroke="#d4143c" stroke-width="1.4" fill="none"/>
<path d="M612.2 538.8V548.8M612.8 537.4V544.0M613.4 537.5V544.0M614.1 532.5V539.2" stroke="#000" stroke-width="1.7" fill="none"/>
<path d="M614.7 525.7V543.3M615.3 530.8V539.7M615.9 525.6V539.6" stroke="#d4143c" stroke-width="1.4" fill="none"/>
<path d="M616.5 529.0V537.0M617.1 522.2V533.9M617.8 519.9V529.2M618.4 512.7V524.4M619.0 497.0V519.7M619.6 479.4V504.6" stroke="#000" stroke-width="1.7" fill="none"/>
<path d="M620.2 476.2V511.8M620.8 500.0V511.4" stroke="#d4143c" stroke-width="1.4" fill="none"/>
<path d="M621.5 499.4V511.0M622.1 490.2V510.6M622.7 486.9V500.9M623.3 486.8V501.7" stroke="#000" stroke-width="1.7" fill="none"/>
<path d="M623.9 485.5V507.1" stroke="#d4143c" stroke-width="1.4" fill="none"/>
<path d="M624.5 492.6V503.8" stroke="#000" stroke-width="1.7" fill="none"/>
<path d="M625.2 496.5V510.0" stroke="#d4143c" stroke-width="1.4" fill="none"/>
<path d="M625.8 492.0V510.0M626.4 493.3V504.4M627.0 486.1V498.1" stroke="#000" stroke-width="1.7" fill="none"/>
<path d="M627.6 488.1V502.6" stroke="#d4143c" stroke-width="1.4" fill="none"/>
<path d="M628.2 491.3V502.3M628.9 489.9V502.4M629.5 485.6V499.8" stroke="#000" stroke-width="1.7" fill="none"/>
<path d="M630.1 478.8V497.7" stroke="#d4143c" stroke-width="1.4" fill="none"/>
<path d="M630.7 478.5V499.2M631.3 476.3V506.6M631.9 486.8V504.4M632.6 479.5V500.8" stroke="#000" stroke-width="1.7" fill="none"/>
<path d="M633.2 478.2V495.8" stroke="#d4143c" stroke-width="1.4" fill="none"/>
<path d="M633.8 480.8V491.8M634.4 479.4V492.3M635.0 480.1V491.1M635.6 482.6V500.7M636.3 485.0V496.2M636.9 490.0V512.4M637.5 491.2V516.3" stroke="#000" stroke-width="1.7" fill="none"/>
<path d="M638.1 512.2V543.4" stroke="#d4143c" stroke-width="1.4" fill="none"/>
<path d="M638.7 538.5V572.7M639.3 543.7V596.7M640.0 548.7V571.6M640.6 530.9V561.8M641.2 524.9V558.4M641.8 535.5V551.6M642.4 520.8V544.6" stroke="#000" stroke-width="1.7" fill="none"/>
<path d="M643.0 521.7V539.0" stroke="#d4143c" stroke-width="1.4" fill="none"/>
<path d="M643.7 516.4V542.7M644.3 516.6V541.6M644.9 514.9V531.8M645.5 510.4V531.6M646.1 506.4V526.4M646.7 501.3V515.7M647.4 499.2V515.1M648.0 491.3V509.0M648.6 477.8V501.3M649.2 477.1V493.6M649.8 426.9V483.2M650.4 388.0V475.5M651.1 377.0V467.9M651.7 421.8V461.9M652.3 392.4V453.7M652.9 406.1V431.8M653.5 389.5V425.5" stroke="#000" stroke-width="1.7" fill="none"/>
<path d="M654.1 395.6V431.1" stroke="#d4143c" stroke-width="1.4" fill="none"/>
<path d="M654.8 413.9V438.9M655.4 420.8V450.8M656.0 409.5V450.4M656.6 410.9V436.7M657.2 413.2V440.5M657.8 405.2V444.7M658.5 400.1V434.9M659.1 403.3V421.7" stroke="#000" stroke-width="1.7" fill="none"/>
<path d="M659.7 406.4V424.9" stroke="#d4143c" stroke-width="1.4" fill="none"/>
<path d="M660.3 407.3V437.1M660.9 405.8V439.7M661.5 404.4V416.7M662.2 402.9V419.5M662.8 401.5V415.6" stroke="#000" stroke-width="1.7" fill="none"/>
<path d="M663.4 402.5V421.9" stroke="#d4143c" stroke-width="1.4" fill="none"/>
<path d="M664.0 394.2V415.0M664.6 388.4V400.9M665.2 382.5V394.3" stroke="#000" stroke-width="1.7" fill="none"/>
<path d="M665.9 376.7V388.1" stroke="#d4143c" stroke-width="1.4" fill="none"/>
<path d="M666.5 379.0V388.7M667.1 383.6V393.5M667.7 388.1V404.9M668.3 392.7V403.1" stroke="#000" stroke-width="1.7" fill="none"/>
<path d="M668.9 394.0V404.4" stroke="#d4143c" stroke-width="1.4" fill="none"/>
<path d="M669.6 394.0V403.9" stroke="#000" stroke-width="1.7" fill="none"/>
<path d="M670.2 394.0V402.4M670.8 394.0V403.1" stroke="#d4143c" stroke-width="1.4" fill="none"/>
<path d="M671.4 393.4V402.3M672.0 392.6V402.4" stroke="#000" stroke-width="1.7" fill="none"/>
<path d="M672.6 391.8V418.4" stroke="#d4143c" stroke-width="1.4" fill="none"/>
<path d="M673.3 392.1V413.7M673.9 394.9V403.8M674.5 393.2V401.6M675.1 389.0V397.5" stroke="#000" stroke-width="1.7" fill="none"/>
<path d="M675.7 389.1V400.3" stroke="#d4143c" stroke-width="1.4" fill="none"/>
<path d="M676.3 394.1V410.0M677.0 400.5V409.0M677.6 401.3V412.7M678.2 391.9V409.3M678.8 394.0V404.1" stroke="#000" stroke-width="1.7" fill="none"/>
<path d="M679.4 396.2V404.9" stroke="#d4143c" stroke-width="1.4" fill="none"/>
<path d="M680.0 398.4V408.9" stroke="#000" stroke-width="1.7" fill="none"/>
<path d="M680.7 401.9V409.6M681.3 406.4V428.0M681.9 421.7V432.5" stroke="#d4143c" stroke-width="1.4" fill="none"/>
<path d="M682.5 427.9V440.7M683.1 435.8V447.1M683.7 436.7V453.4M684.4 425.9V443.3M685.0 425.2V449.3M685.6 417.8V439.5" stroke="#000" stroke-width="1.7" fill="none"/>
<path d="M686.2 416.8V456.0" stroke="#d4143c" stroke-width="1.4" fill="none"/>
<path d="M686.8 442.9V456.0M687.4 448.0V456.0M688.1 445.6V456.0M688.7 439.4V456.0" stroke="#000" stroke-width="1.7" fill="none"/>
<path d="M689.3 437.2V450.2" stroke="#d4143c" stroke-width="1.4" fill="none"/>
<path d="M689.9 438.3V455.5M690.5 445.2V455.2M691.1 440.7V454.9M691.8 434.7V454.6M692.4 434.8V448.8M693.0 426.3V444.7" stroke="#000" stroke-width="1.7" fill="none"/>
<path d="M693.6 423.5V445.4" stroke="#d4143c" stroke-width="1.4" fill="none"/>
<path d="M694.2 431.3V451.6M694.8 416.2V450.5" stroke="#000" stroke-width="1.7" fill="none"/>
<path d="M695.5 410.5V443.8" stroke="#d4143c" stroke-width="1.4" fill="none"/>
<path d="M696.1 429.0V446.6M696.7 428.5V442.7M697.3 426.6V444.0M697.9 414.5V438.3" stroke="#000" stroke-width="1.7" fill="none"/>
<path d="M698.5 415.1V429.6" stroke="#d4143c" stroke-width="1.4" fill="none"/>
<path d="M699.2 416.2V434.3M699.8 403.5V428.2M700.4 399.6V419.4M701.0 400.8V413.2M701.6 402.4V422.0M702.2 404.0V421.3" stroke="#000" stroke-width="1.7" fill="none"/>
<path d="M702.9 405.7V435.2" stroke="#d4143c" stroke-width="1.4" fill="none"/>
<path d="M703.5 415.7V436.1M704.1 415.9V428.0M704.7 416.6V428.5M705.3 423.3V436.9M705.9 427.5V439.6M706.6 426.5V447.1M707.2 430.6V439.3" stroke="#000" stroke-width="1.7" fill="none"/>
<path d="M707.8 432.7V440.0" stroke="#d4143c" stroke-width="1.4" fill="none"/>
<path d="M708.4 434.7V443.6" stroke="#000" stroke-width="1.7" fill="none"/>
<path d="M709.0 436.8V448.6" stroke="#d4143c" stroke-width="1.4" fill="none"/>
<path d="M709.6 440.1V450.3" stroke="#000" stroke-width="1.7" fill="none"/>
<path d="M710.3 441.3V461.1" stroke="#d4143c" stroke-width="1.4" fill="none"/>
<path d="M710.9 441.2V465.4" stroke="#000" stroke-width="1.7" fill="none"/>
<path d="M711.5 445.8V456.5" stroke="#d4143c" stroke-width="1.4" fill="none"/>
<path d="M712.1 442.9V458.5M712.7 443.7V457.0" stroke="#000" stroke-width="1.7" fill="none"/>
<path d="M713.4 455.4V464.4" stroke="#d4143c" stroke-width="1.4" fill="none"/>
<path d="M714.0 452.9V469.2M714.6 455.5V466.3M715.2 451.4V469.8M715.8 452.7V480.0M716.4 458.8V483.9M717.1 459.7V500.9M717.7 457.5V471.9" stroke="#000" stroke-width="1.7" fill="none"/>
<path d="M718.3 459.8V492.3" stroke="#d4143c" stroke-width="1.4" fill="none"/>
<path d="M718.9 476.9V498.1M719.5 483.3V497.2M720.1 460.5V496.3M720.8 459.8V475.1" stroke="#000" stroke-width="1.7" fill="none"/>
<path d="M721.4 458.2V481.0M722.0 464.6V488.4" stroke="#d4143c" stroke-width="1.4" fill="none"/>
<path d="M722.6 469.6V483.1M723.2 451.3V479.1M723.8 447.0V459.6M724.5 442.5V454.7" stroke="#000" stroke-width="1.7" fill="none"/>
<path d="M725.1 439.0V458.7M725.7 446.8V462.6M726.3 452.4V472.5" stroke="#d4143c" stroke-width="1.4" fill="none"/>
<path d="M726.9 448.3V470.5M727.5 442.4V461.7M728.2 433.7V459.4M728.8 432.7V452.6M729.4 424.8V470.7M730.0 426.0V436.4M730.6 427.2V439.3M731.2 428.5V452.9M731.9 429.7V447.1" stroke="#000" stroke-width="1.7" fill="none"/>
<path d="M732.5 428.0V438.1" stroke="#d4143c" stroke-width="1.4" fill="none"/>
<path d="M733.1 425.3V437.8M733.7 422.6V436.8M734.3 419.9V427.3" stroke="#000" stroke-width="1.7" fill="none"/>
<path d="M734.9 417.4V428.7M735.6 414.9V439.3" stroke="#d4143c" stroke-width="1.4" fill="none"/>
<path d="M736.2 425.8V441.7M736.8 423.8V442.9" stroke="#000" stroke-width="1.7" fill="none"/>
<path d="M737.4 431.5V450.2M738.0 438.2V450.0" stroke="#d4143c" stroke-width="1.4" fill="none"/>
<path d="M738.6 436.1V450.0M739.3 414.8V448.0M739.9 411.8V436.7M740.5 411.7V437.4M741.1 416.4V430.3" stroke="#000" stroke-width="1.7" fill="none"/>
<path d="M741.7 413.2V432.3" stroke="#d4143c" stroke-width="1.4" fill="none"/>
<path d="M742.3 419.7V433.0M743.0 413.4V430.0M743.6 413.9V432.5" stroke="#000" stroke-width="1.7" fill="none"/>
<path d="M744.2 416.4V437.2" stroke="#d4143c" stroke-width="1.4" fill="none"/>
<path d="M744.8 421.3V438.9M745.4 415.3V434.6" stroke="#000" stroke-width="1.7" fill="none"/>
<path d="M746.0 415.7V435.2" stroke="#d4143c" stroke-width="1.4" fill="none"/>
<path d="M746.7 415.2V432.8M747.3 414.8V441.2M747.9 428.8V454.1M748.5 445.7V455.5M749.1 443.1V456.9M749.7 447.9V458.2M750.4 447.2V459.6M751.0 445.2V460.9M751.6 416.7V459.6M752.2 411.6V434.0" stroke="#000" stroke-width="1.7" fill="none"/>
<path d="M752.8 411.4V445.0M753.4 428.9V455.3" stroke="#d4143c" stroke-width="1.4" fill="none"/>
<path d="M754.1 443.8V453.9M754.7 439.4V452.4M755.3 428.9V451.0M755.9 418.2V449.4M756.5 412.3V426.3" stroke="#000" stroke-width="1.7" fill="none"/>
<path d="M757.1 413.7V426.4" stroke="#d4143c" stroke-width="1.4" fill="none"/>
<path d="M757.8 421.6V440.2M758.4 431.7V443.4M759.0 436.2V448.5M759.6 436.0V448.2M760.2 437.3V447.3" stroke="#000" stroke-width="1.7" fill="none"/>
<path d="M760.8 436.6V448.0" stroke="#d4143c" stroke-width="1.4" fill="none"/>
<path d="M761.5 436.9V448.0M762.1 434.1V448.0M762.7 436.7V448.0M763.3 432.2V443.7M763.9 429.7V440.1" stroke="#000" stroke-width="1.7" fill="none"/>
<path d="M764.5 422.8V439.3" stroke="#d4143c" stroke-width="1.4" fill="none"/>
<path d="M765.2 421.9V439.1M765.8 418.8V431.1M766.4 405.4V427.9M767.0 398.3V416.7M767.6 396.5V418.9" stroke="#000" stroke-width="1.7" fill="none"/>
<path d="M768.2 402.6V426.0" stroke="#d4143c" stroke-width="1.4" fill="none"/>
<path d="M768.9 400.8V415.5M769.5 394.4V412.1M770.1 391.6V414.0M770.7 394.6V412.1" stroke="#000" stroke-width="1.7" fill="none"/>
<path d="M771.3 383.6V411.2" stroke="#d4143c" stroke-width="1.4" fill="none"/>
<path d="M771.9 390.5V409.7M772.6 378.6V399.8M773.2 369.6V389.2M773.8 361.0V380.8M774.4 359.6V373.1M775.0 358.2V388.1M775.6 356.8V383.3M776.3 356.2V372.3" stroke="#000" stroke-width="1.7" fill="none"/>
<path d="M776.9 356.8V372.3" stroke="#d4143c" stroke-width="1.4" fill="none"/>
<path d="M777.5 357.3V370.8M778.1 357.9V372.3M778.7 358.4V370.8M779.3 359.0V386.2M780.0 366.4V382.9M780.6 359.7V378.3" stroke="#000" stroke-width="1.7" fill="none"/>
<path d="M781.2 357.2V377.1" stroke="#d4143c" stroke-width="1.4" fill="none"/>
<path d="M781.8 357.0V373.2M782.4 352.3V370.2" stroke="#000" stroke-width="1.7" fill="none"/>
<path d="M783.0 349.9V373.5" stroke="#d4143c" stroke-width="1.4" fill="none"/>
<path d="M783.7 357.1V396.6M784.3 376.8V398.0M784.9 374.6V394.3M785.5 341.0V396.2" stroke="#000" stroke-width="1.7" fill="none"/>
<path d="M786.1 342.3V381.5" stroke="#d4143c" stroke-width="1.4" fill="none"/>
<path d="M786.7 362.7V387.3M787.4 348.0V380.1M788.0 350.9V364.3" stroke="#000" stroke-width="1.7" fill="none"/>
<path d="M788.6 353.8V371.2" stroke="#d4143c" stroke-width="1.4" fill="none"/>
<path d="M789.2 356.0V373.1M789.8 358.6V390.5" stroke="#000" stroke-width="1.7" fill="none"/>
<path d="M790.4 379.1V389.7" stroke="#d4143c" stroke-width="1.4" fill="none"/>
<path d="M791.1 377.9V388.8" stroke="#000" stroke-width="1.7" fill="none"/>
<path d="M791.7 376.9V387.8" stroke="#d4143c" stroke-width="1.4" fill="none"/>
<path d="M792.3 378.1V386.8M792.9 376.3V385.7M793.5 364.7V384.6M794.1 355.4V373.9M794.8 350.3V363.3" stroke="#000" stroke-width="1.7" fill="none"/>
<path d="M795.4 355.7V381.2" stroke="#d4143c" stroke-width="1.4" fill="none"/>
<path d="M796.0 367.5V380.0" stroke="#000" stroke-width="1.7" fill="none"/>
<path d="M796.6 366.9V379.0" stroke="#d4143c" stroke-width="1.4" fill="none"/>
<path d="M797.2 357.5V378.0M797.8 348.1V375.3" stroke="#000" stroke-width="1.7" fill="none"/>
<path d="M798.5 349.9V375.9" stroke="#d4143c" stroke-width="1.4" fill="none"/>
<path d="M799.1 353.6V374.9M799.7 349.3V360.7M800.3 352.2V363.2" stroke="#000" stroke-width="1.7" fill="none"/>
<path d="M800.9 355.1V370.1" stroke="#d4143c" stroke-width="1.4" fill="none"/>
<path d="M801.5 347.7V367.9M802.2 350.6V366.0M802.8 355.6V365.2M803.4 345.6V360.6" stroke="#000" stroke-width="1.7" fill="none"/>
<path d="M804.0 346.2V355.5" stroke="#d4143c" stroke-width="1.4" fill="none"/>
<path d="M804.6 346.2V353.7M805.2 346.4V353.3" stroke="#000" stroke-width="1.7" fill="none"/>
<path d="M805.9 346.7V353.8M806.5 347.0V359.5" stroke="#d4143c" stroke-width="1.4" fill="none"/>
<path d="M21.0 802.0C23.1 803.6 35.9 813.0 40.0 816.0C44.1 819.0 54.7 827.8 58.0 828.6C61.3 829.4 67.2 824.4 70.0 823.0C72.8 821.6 79.7 816.8 83.0 816.0C86.3 815.2 96.7 817.1 100.0 816.0C103.3 814.9 111.0 807.7 113.0 806.0C115.0 804.3 117.1 802.7 118.0 801.0C118.9 799.3 120.1 794.3 121.0 791.0C121.9 787.7 124.9 774.7 126.0 771.0C127.1 767.3 129.9 760.6 131.0 758.0C132.1 755.4 134.9 749.9 136.0 748.0C137.1 746.1 139.3 742.8 141.0 740.6C142.7 738.4 149.3 729.8 151.0 728.0C152.7 726.2 154.9 725.8 156.6 724.7C158.3 723.6 164.1 719.1 166.0 718.0C167.9 716.9 172.3 716.1 173.7 715.0C175.1 713.9 177.4 711.0 179.0 708.0C180.6 705.0 186.7 693.1 188.3 688.0C189.9 682.9 192.5 668.0 193.7 662.3C194.9 656.6 197.8 642.0 199.2 636.7C200.6 631.4 204.9 619.9 206.5 614.8C208.1 609.7 212.2 594.6 213.8 591.0C215.4 587.4 219.5 583.4 221.1 582.0C222.7 580.6 226.8 579.5 228.4 578.3C230.0 577.1 233.8 573.3 235.8 571.0C237.8 568.7 244.8 560.8 246.7 558.0C248.6 555.2 251.5 548.5 253.0 545.6C254.5 542.7 258.6 534.8 260.0 532.0C261.4 529.2 264.5 521.3 265.7 520.3C266.9 519.3 269.6 521.4 270.6 523.0C271.6 524.6 273.2 530.4 274.6 535.0C276.0 539.6 281.5 559.5 283.5 564.8C285.5 570.1 290.7 581.0 292.4 582.7C294.1 584.4 296.7 583.3 298.4 579.7C300.1 576.1 305.9 554.9 307.3 550.0C308.7 545.1 309.7 539.1 311.0 535.5C312.3 531.9 317.8 520.4 319.2 517.3C320.6 514.2 322.0 510.3 323.4 508.0C324.8 505.7 330.3 500.4 332.0 496.8C333.7 493.2 337.0 481.5 338.4 476.0C339.8 470.5 343.4 454.3 344.8 447.2C346.2 440.1 350.0 419.5 351.2 412.0C352.4 404.5 354.8 386.6 356.0 380.0C357.2 373.4 360.3 357.7 361.7 352.8C363.1 347.9 366.7 338.2 368.6 336.0C370.5 333.8 376.9 331.3 379.0 332.9C381.1 334.5 385.7 346.9 387.8 350.5C389.9 354.1 395.3 363.3 397.8 365.5C400.3 367.7 407.9 368.3 410.4 370.5C412.9 372.7 418.4 382.3 420.4 385.6C422.4 388.9 426.8 395.6 428.4 400.0C430.0 404.4 433.6 419.6 435.2 425.2C436.8 430.8 441.5 446.6 443.0 450.5C444.5 454.4 447.1 458.3 448.8 460.2C450.5 462.1 456.3 465.6 458.5 468.0C460.7 470.4 466.1 478.6 468.3 481.6C470.5 484.6 475.8 491.9 478.0 495.1C480.2 498.3 485.8 507.7 487.7 510.7C489.6 513.7 493.5 519.9 495.4 522.3C497.3 524.7 503.1 530.6 505.1 532.0C507.1 533.4 512.0 535.7 513.7 535.0C515.4 534.3 519.1 527.8 520.6 525.4C522.1 523.0 525.9 515.3 527.4 513.0C528.9 510.7 532.8 506.6 534.3 504.9C535.8 503.2 539.7 498.8 541.2 498.0C542.7 497.2 546.5 496.5 548.0 497.3C549.5 498.1 553.4 503.6 554.9 504.9C556.4 506.2 560.2 508.5 561.7 509.0C563.2 509.5 566.3 508.6 568.6 509.0C570.9 509.4 580.0 511.9 582.3 513.0C584.6 514.1 587.4 516.9 589.2 518.6C591.0 520.3 596.5 526.1 598.8 528.2C601.1 530.3 607.9 536.7 609.7 537.8C611.5 538.9 614.1 538.8 615.2 538.5C616.3 538.2 617.8 537.6 620.0 535.0C622.2 532.4 631.9 518.5 634.8 515.5C637.7 512.5 644.5 510.4 646.3 508.0C648.1 505.6 649.9 498.0 651.4 493.7C652.9 489.4 658.0 475.7 660.0 469.7C662.0 463.7 667.5 446.7 669.7 440.0C671.9 433.3 676.9 412.5 679.4 409.7C681.9 406.9 690.0 413.4 692.6 414.9C695.2 416.4 700.4 420.6 702.8 423.4C705.2 426.2 712.1 437.0 714.3 440.0C716.5 443.0 720.8 448.7 722.3 450.0C723.8 451.3 726.1 450.9 727.4 451.7C728.7 452.5 732.6 457.4 734.3 456.8C736.0 456.2 740.9 448.8 742.8 446.5C744.7 444.2 749.5 437.7 751.4 436.2C753.3 434.7 758.1 433.9 760.0 432.8C761.9 431.7 766.6 428.3 768.5 426.0C770.4 423.7 775.2 415.3 777.1 412.2C779.0 409.1 784.0 401.5 785.7 398.5C787.4 395.5 790.6 388.1 792.5 384.8C794.4 381.5 801.5 370.6 802.8 368.6C804.1 366.6 804.3 366.7 804.5 366.5" stroke="#2828a8" stroke-width="1.3" fill="none"/>
<path d="M36.0 791.5C37.1 792.0 43.5 794.2 46.0 795.6C48.5 797.0 56.2 802.6 58.9 803.8C61.6 805.0 66.8 805.7 70.0 806.5C73.2 807.3 83.8 810.3 88.0 811.0C92.2 811.7 104.7 812.9 108.0 813.0C111.3 813.1 115.4 813.1 118.0 812.0C120.6 810.9 127.9 805.1 131.0 803.0C134.1 800.9 142.7 796.0 146.0 793.0C149.3 790.0 158.5 778.6 161.0 776.0C163.5 773.4 166.5 771.8 168.5 770.0C170.5 768.2 177.1 762.7 179.4 759.5C181.7 756.3 187.3 745.6 189.5 741.2C191.7 736.8 196.3 725.7 199.2 719.8C202.1 713.9 212.2 694.4 215.7 688.0C219.2 681.6 227.8 666.7 230.3 662.3C232.8 657.9 235.8 652.1 238.0 648.0C240.2 643.9 247.5 630.5 250.0 625.8C252.5 621.1 258.6 609.1 260.6 606.0C262.6 602.9 265.5 600.3 268.0 598.0C270.5 595.7 279.8 589.4 283.5 585.7C287.2 582.0 298.2 568.3 301.3 564.8C304.4 561.3 308.5 556.5 311.0 554.4C313.5 552.3 320.8 547.5 323.4 545.6C326.0 543.7 331.8 539.8 334.0 537.0C336.2 534.2 341.4 523.6 343.2 520.0C345.0 516.4 348.7 508.1 350.0 505.0C351.3 501.9 354.0 494.8 355.0 492.0C356.0 489.2 357.8 483.4 359.2 480.0C360.6 476.6 365.7 464.0 367.2 461.0C368.7 458.0 371.6 454.7 372.7 453.0C373.8 451.3 375.7 447.4 376.8 446.0C377.9 444.6 381.6 441.4 383.0 440.0C384.4 438.6 387.8 435.3 389.6 433.0C391.4 430.7 397.4 421.7 399.2 419.0C401.0 416.3 404.1 410.8 405.9 408.6C407.7 406.4 412.7 401.1 415.0 399.4C417.3 397.7 423.9 394.1 426.4 393.1C428.9 392.1 435.2 390.5 437.7 390.0C440.2 389.5 446.4 388.5 448.6 388.4C450.8 388.3 456.0 388.4 457.8 388.8C459.6 389.2 463.6 390.8 465.0 392.0C466.4 393.2 469.0 398.1 470.2 400.0C471.4 401.9 474.5 406.8 476.0 409.0C477.5 411.2 482.2 417.1 483.8 419.4C485.4 421.7 488.5 427.4 490.0 430.0C491.5 432.6 495.7 440.3 497.4 442.7C499.1 445.1 503.2 449.7 505.0 452.0C506.8 454.3 512.0 461.5 513.7 463.7C515.4 465.9 519.1 470.0 520.6 472.0C522.1 474.0 525.9 479.4 527.4 481.5C528.9 483.6 532.8 489.3 534.3 491.0C535.8 492.7 538.9 495.2 541.2 496.6C543.5 498.0 551.9 502.3 554.9 503.5C557.9 504.7 565.6 506.5 568.6 507.6C571.6 508.7 579.3 511.9 582.3 513.0C585.3 514.1 593.0 517.3 596.0 517.9C599.0 518.5 607.0 518.5 609.7 518.6C612.4 518.7 617.2 518.8 620.0 518.6C622.8 518.4 631.3 517.4 634.8 517.0C638.3 516.6 647.7 517.2 651.4 515.0C655.1 512.8 664.7 500.5 668.5 497.0C672.3 493.5 682.2 486.2 685.7 483.4C689.2 480.6 696.5 474.6 700.0 472.2C703.5 469.8 713.3 464.5 717.1 462.0C720.9 459.5 730.5 452.3 734.3 450.0C738.1 447.7 747.6 443.5 751.4 441.4C755.2 439.3 764.7 433.2 768.5 431.1C772.3 429.0 781.9 424.0 785.7 422.5C789.5 421.0 800.7 418.1 802.8 417.4C804.9 416.7 804.3 416.6 804.5 416.5" stroke="#d42448" stroke-width="1.3" fill="none"/>
<line x1="171" y1="717" x2="287" y2="485" stroke="#3a3a3a" stroke-width="1.7" stroke-dasharray="5.5,3.5" fill="none"/>
<line x1="268.5" y1="679" x2="425" y2="321" stroke="#3a3a3a" stroke-width="1.7" stroke-dasharray="5.5,3.5" fill="none"/>
<line x1="638.5" y1="597.8" x2="816.3" y2="380.4" stroke="#3a3a3a" stroke-width="1.7" stroke-dasharray="5.5,3.5" fill="none"/>
<line x1="258" y1="478" x2="268" y2="676" stroke-width="2" stroke="#cc2a4e" fill="none" stroke-dasharray="4.5,2"/>
<line x1="264" y1="477" x2="269.5" y2="681" stroke-width="3" stroke="#cc2a4e" fill="none" stroke-dasharray="4.5,2"/>
<line x1="799.5" y1="342" x2="805.5" y2="545" stroke-width="2.8" stroke="#cc2a4e" fill="none" stroke-dasharray="4.5,2"/>
<ellipse cx="823.7" cy="475.6" rx="17.2" ry="15" stroke="#1e8c1e" stroke-width="2.3" fill="none"/>
<polygon points="36.8,80.9 295.9,80.9 335.9,59.3 303.9,87.9 303.9,126.8 337.1,166.8 295.9,134.4 36.8,134.4" fill="#c4c4c4" stroke="#c4c4c4" stroke-width="1.5"/>
<polygon points="34.6,78.7 293.7,78.7 333.7,57.1 301.7,85.7 301.7,124.6 334.9,164.6 293.7,132.2 34.6,132.2" fill="#fff" stroke="#7c7c7c" stroke-width="1.3" stroke-linejoin="miter"/>
<text x="40.1" y="99.7" font-family="'DejaVu Sans Condensed', sans-serif" font-size="17" font-weight="bold" fill="#111" textLength="227.8" lengthAdjust="spacingAndGlyphs" font-stretch="condensed">The next major targets for</text>
<text x="40.1" y="122.1" font-family="'DejaVu Sans Condensed', sans-serif" font-size="17" font-weight="bold" fill="#111" textLength="228.3" lengthAdjust="spacingAndGlyphs" font-stretch="condensed">tops are $75-$77 and $120.</text>
<polygon points="565.1,60.2 625.1,60.2 625.1,90.2 565.1,90.2" fill="#c4c4c4" stroke="#c4c4c4" stroke-width="1.5"/>
<polygon points="562.9,58.0 622.9,58.0 622.9,88.0 562.9,88.0" fill="#fff" stroke="#7c7c7c" stroke-width="1.3" stroke-linejoin="miter"/>
<polygon points="625.7,60.5 805.4,60.5 805.4,90.2 625.7,90.2" fill="#c4c4c4" stroke="#c4c4c4" stroke-width="1.5"/>
<polygon points="623.5,58.3 803.2,58.3 803.2,88.0 623.5,88.0" fill="#fff" stroke="#7c7c7c" stroke-width="1.3" stroke-linejoin="miter"/>
<text x="567.6" y="78" font-family="'Liberation Sans', sans-serif" font-size="18" font-weight="bold" fill="#5e5e5e" textLength="50.3" lengthAdjust="spacingAndGlyphs">Silver</text>
<text x="627.1" y="78" font-family="'Liberation Sans', sans-serif" font-size="18" font-weight="bold" fill="#0a0a0a" textLength="163" lengthAdjust="spacingAndGlyphs">PriceForecast.com</text>
<polygon points="442.8,226.8 708.0,226.8 708.0,273.0 780.4,331.6 700.1,280.6 442.8,280.6" fill="#c4c4c4" stroke="#c4c4c4" stroke-width="1.5"/>
<polygon points="440.6,224.6 705.8,224.6 705.8,270.8 778.2,329.4 697.9,278.4 440.6,278.4" fill="#fff" stroke="#7c7c7c" stroke-width="1.3" stroke-linejoin="miter"/>
<text x="444.4" y="246.7" font-family="'Liberation Sans', sans-serif" font-size="20" font-weight="bold" fill="#0a0a0a" textLength="196.8" lengthAdjust="spacingAndGlyphs">The 61.8% Fibonacci</text>
<text x="444.4" y="268.4" font-family="'Liberation Sans', sans-serif" font-size="20" font-weight="bold" fill="#0a0a0a" textLength="243.2" lengthAdjust="spacingAndGlyphs">retracement was reached.</text>
<polygon points="403.0,694.2 403.0,610.8 410.5,390.2 411.0,610.8 754.2,610.8 811.2,407.2 761.5,618.8 761.5,694.2" fill="#c4c4c4" stroke="#c4c4c4" stroke-width="1.5"/>
<polygon points="400.8,692.0 400.8,608.6 408.3,388.0 408.8,608.6 752.0,608.6 809.0,405.0 759.3,616.6 759.3,692.0" fill="#fff" stroke="#7c7c7c" stroke-width="1.3" stroke-linejoin="miter"/>
<text x="403.8" y="632" font-family="'Liberation Sans', sans-serif" font-size="19" font-weight="bold" fill="#bb0a12" textLength="342" lengthAdjust="spacingAndGlyphs">Once silver breaks below its rising,</text>
<text x="403.8" y="656.3" font-family="'Liberation Sans', sans-serif" font-size="19" font-weight="bold" fill="#bb0a12" textLength="335.6" lengthAdjust="spacingAndGlyphs">long-term support line, the slide is</text>
<text x="403.8" y="680.6" font-family="'Liberation Sans', sans-serif" font-size="19" font-weight="bold" fill="#bb0a12" textLength="211.8" lengthAdjust="spacingAndGlyphs">likely to be enormous.</text>
<polygon points="270.3,756.5 662.7,756.5 662.7,834.9 270.3,834.9" fill="#c4c4c4" stroke="#c4c4c4" stroke-width="1.5"/>
<polygon points="268.1,754.3 660.5,754.3 660.5,832.7 268.1,832.7" fill="#fff" stroke="#7c7c7c" stroke-width="1.3" stroke-linejoin="miter"/>
<text x="272.3" y="776" font-family="'Liberation Sans', sans-serif" font-size="18" font-weight="bold" fill="#575757" textLength="339.7" lengthAdjust="spacingAndGlyphs">Each previous major top could have</text>
<text x="272.3" y="799.8" font-family="'Liberation Sans', sans-serif" font-size="18" font-weight="bold" fill="#575757" textLength="368.7" lengthAdjust="spacingAndGlyphs">been forecasted based on the previous</text>
<text x="272.3" y="823.6" font-family="'Liberation Sans', sans-serif" font-size="18" font-weight="bold" fill="#575757" textLength="326.7" lengthAdjust="spacingAndGlyphs">tops and the Fibonacci extensions.</text>
<path d="M23.5 48.5 L27 41 L29.5 44.5 L31.5 40 L35 48.5 Z" fill="#5e9e62" stroke="#1f3f1f" stroke-width="1"/>
<text x="37.7" y="48.6" font-family="'DejaVu Sans Mono', monospace" font-size="13" fill="#333" textLength="100.6" lengthAdjust="spacingAndGlyphs" stroke="#333" stroke-width="0.3">RSI(14) 55.40</text>
<g fill="none" stroke="#000" stroke-width="1.6"><path d="M24.5 253v7M24.5 256h2.5M28.5 252.5v7.5M31.5 253v7M31.5 256.5h2.5M34.5 253.5v6"/></g>
<text x="39.3" y="261.4" font-family="'DejaVu Sans Mono', monospace" font-size="12.7" fill="#1a1a1a" textLength="238" lengthAdjust="spacingAndGlyphs" stroke="#1a1a1a" stroke-width="0.35">$SILVER (Weekly) 33.27 (27 May)</text>
<line x1="23.7" y1="269.6" x2="34.7" y2="269.6" stroke="#22229a" stroke-width="2.6"/>
<text x="36.7" y="274.4" font-family="'DejaVu Sans', sans-serif" font-size="10.8" fill="#26269a" textLength="73.4" lengthAdjust="spacingAndGlyphs" stroke="#26269a" stroke-width="0.3">MA(50) 31.09</text>
<line x1="23.7" y1="283.3" x2="34.7" y2="283.3" stroke="#d42448" stroke-width="2.6"/>
<text x="36.7" y="288.1" font-family="'DejaVu Sans', sans-serif" font-size="10.8" fill="#d42448" textLength="79.6" lengthAdjust="spacingAndGlyphs" stroke="#d42448" stroke-width="0.3">MA(200) 25.22</text>
<g fill="#666"><rect x="23.7" y="295" width="2.2" height="5.5"/><rect x="26.6" y="292.5" width="2.2" height="8"/><rect x="29.5" y="294" width="2.2" height="6.5"/><rect x="32.4" y="296" width="2.2" height="4.5"/></g>
<text x="36.7" y="300.4" font-family="'DejaVu Sans', sans-serif" font-size="10.8" fill="#555" textLength="77.4" lengthAdjust="spacingAndGlyphs" stroke="#555" stroke-width="0.3">Volume undef</text>
</svg></body></html>
